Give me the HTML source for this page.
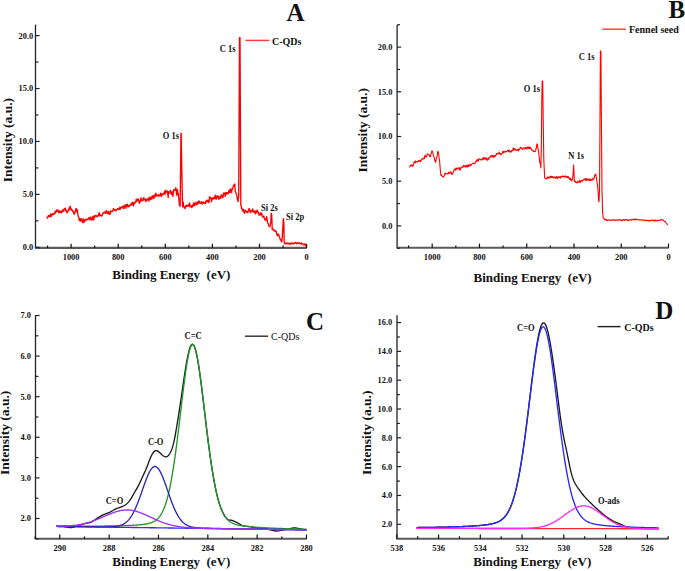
<!DOCTYPE html>
<html><head><meta charset="utf-8"><style>
html,body{margin:0;padding:0;background:#fff;overflow:hidden;width:685px;height:571px;}
svg{display:block;}
text{font-family:"Liberation Serif", serif;fill:#111;}
</style></head><body>
<svg width="685" height="571" viewBox="0 0 685 571">
<rect width="685" height="571" fill="#fff"/>
<g id="axes">
<line x1="35.5" y1="24.6" x2="35.5" y2="247.9" stroke="#222" stroke-width="1.3"/>
<line x1="34.85" y1="247.9" x2="306.8" y2="247.9" stroke="#5a5a5a" stroke-width="2.1"/>
<line x1="35.5" y1="247.3" x2="39.6" y2="247.3" stroke="#222" stroke-width="1.2"/>
<text transform="translate(33.2 250.2) scale(1 1.08)" font-size="8.4" font-weight="bold" text-anchor="end" >0.0</text>
<line x1="35.5" y1="220.84" x2="38.4" y2="220.84" stroke="#222" stroke-width="1.2"/>
<line x1="35.5" y1="194.38" x2="39.6" y2="194.38" stroke="#222" stroke-width="1.2"/>
<text transform="translate(33.2 197.28) scale(1 1.08)" font-size="8.4" font-weight="bold" text-anchor="end" >5.0</text>
<line x1="35.5" y1="167.91" x2="38.4" y2="167.91" stroke="#222" stroke-width="1.2"/>
<line x1="35.5" y1="141.45" x2="39.6" y2="141.45" stroke="#222" stroke-width="1.2"/>
<text transform="translate(33.2 144.35) scale(1 1.08)" font-size="8.4" font-weight="bold" text-anchor="end" >10.0</text>
<line x1="35.5" y1="114.99" x2="38.4" y2="114.99" stroke="#222" stroke-width="1.2"/>
<line x1="35.5" y1="88.53" x2="39.6" y2="88.53" stroke="#222" stroke-width="1.2"/>
<text transform="translate(33.2 91.43) scale(1 1.08)" font-size="8.4" font-weight="bold" text-anchor="end" >15.0</text>
<line x1="35.5" y1="62.06" x2="38.4" y2="62.06" stroke="#222" stroke-width="1.2"/>
<line x1="35.5" y1="35.6" x2="39.6" y2="35.6" stroke="#222" stroke-width="1.2"/>
<text transform="translate(33.2 38.5) scale(1 1.08)" font-size="8.4" font-weight="bold" text-anchor="end" >20.0</text>
<line x1="306.6" y1="247.9" x2="306.6" y2="243.7" stroke="#111" stroke-width="1.2"/>
<text transform="translate(306.6 259.7) scale(1 1.08)" font-size="8.4" font-weight="bold" text-anchor="middle" >0</text>
<line x1="283.05" y1="247.9" x2="283.05" y2="245.5" stroke="#111" stroke-width="1.2"/>
<line x1="259.5" y1="247.9" x2="259.5" y2="243.7" stroke="#111" stroke-width="1.2"/>
<text transform="translate(259.5 259.7) scale(1 1.08)" font-size="8.4" font-weight="bold" text-anchor="middle" >200</text>
<line x1="235.95" y1="247.9" x2="235.95" y2="245.5" stroke="#111" stroke-width="1.2"/>
<line x1="212.4" y1="247.9" x2="212.4" y2="243.7" stroke="#111" stroke-width="1.2"/>
<text transform="translate(212.4 259.7) scale(1 1.08)" font-size="8.4" font-weight="bold" text-anchor="middle" >400</text>
<line x1="188.85" y1="247.9" x2="188.85" y2="245.5" stroke="#111" stroke-width="1.2"/>
<line x1="165.3" y1="247.9" x2="165.3" y2="243.7" stroke="#111" stroke-width="1.2"/>
<text transform="translate(165.3 259.7) scale(1 1.08)" font-size="8.4" font-weight="bold" text-anchor="middle" >600</text>
<line x1="141.75" y1="247.9" x2="141.75" y2="245.5" stroke="#111" stroke-width="1.2"/>
<line x1="118.2" y1="247.9" x2="118.2" y2="243.7" stroke="#111" stroke-width="1.2"/>
<text transform="translate(118.2 259.7) scale(1 1.08)" font-size="8.4" font-weight="bold" text-anchor="middle" >800</text>
<line x1="94.65" y1="247.9" x2="94.65" y2="245.5" stroke="#111" stroke-width="1.2"/>
<line x1="71.1" y1="247.9" x2="71.1" y2="243.7" stroke="#111" stroke-width="1.2"/>
<text transform="translate(71.1 259.7) scale(1 1.08)" font-size="8.4" font-weight="bold" text-anchor="middle" >1000</text>
<line x1="47.55" y1="247.9" x2="47.55" y2="245.5" stroke="#111" stroke-width="1.2"/>
<line x1="397.1" y1="25" x2="397.1" y2="247.8" stroke="#222" stroke-width="1.3"/>
<line x1="396.45" y1="247.8" x2="668.7" y2="247.8" stroke="#5a5a5a" stroke-width="2.1"/>
<line x1="397.1" y1="248.25" x2="400" y2="248.25" stroke="#222" stroke-width="1.2"/>
<line x1="397.1" y1="225.9" x2="401.2" y2="225.9" stroke="#222" stroke-width="1.2"/>
<text transform="translate(392.4 228.8) scale(1 1.08)" font-size="8.4" font-weight="bold" text-anchor="end" >0.0</text>
<line x1="397.1" y1="203.55" x2="400" y2="203.55" stroke="#222" stroke-width="1.2"/>
<line x1="397.1" y1="181.2" x2="401.2" y2="181.2" stroke="#222" stroke-width="1.2"/>
<text transform="translate(392.4 184.1) scale(1 1.08)" font-size="8.4" font-weight="bold" text-anchor="end" >5.0</text>
<line x1="397.1" y1="158.85" x2="400" y2="158.85" stroke="#222" stroke-width="1.2"/>
<line x1="397.1" y1="136.5" x2="401.2" y2="136.5" stroke="#222" stroke-width="1.2"/>
<text transform="translate(392.4 139.4) scale(1 1.08)" font-size="8.4" font-weight="bold" text-anchor="end" >10.0</text>
<line x1="397.1" y1="114.15" x2="400" y2="114.15" stroke="#222" stroke-width="1.2"/>
<line x1="397.1" y1="91.8" x2="401.2" y2="91.8" stroke="#222" stroke-width="1.2"/>
<text transform="translate(392.4 94.7) scale(1 1.08)" font-size="8.4" font-weight="bold" text-anchor="end" >15.0</text>
<line x1="397.1" y1="69.45" x2="400" y2="69.45" stroke="#222" stroke-width="1.2"/>
<line x1="397.1" y1="47.1" x2="401.2" y2="47.1" stroke="#222" stroke-width="1.2"/>
<text transform="translate(392.4 50) scale(1 1.08)" font-size="8.4" font-weight="bold" text-anchor="end" >20.0</text>
<line x1="397.1" y1="24.75" x2="400" y2="24.75" stroke="#222" stroke-width="1.2"/>
<line x1="668.5" y1="247.8" x2="668.5" y2="243.6" stroke="#111" stroke-width="1.2"/>
<text transform="translate(668.5 259.7) scale(1 1.08)" font-size="8.4" font-weight="bold" text-anchor="middle" >0</text>
<line x1="644.87" y1="247.8" x2="644.87" y2="245.4" stroke="#111" stroke-width="1.2"/>
<line x1="621.24" y1="247.8" x2="621.24" y2="243.6" stroke="#111" stroke-width="1.2"/>
<text transform="translate(621.24 259.7) scale(1 1.08)" font-size="8.4" font-weight="bold" text-anchor="middle" >200</text>
<line x1="597.61" y1="247.8" x2="597.61" y2="245.4" stroke="#111" stroke-width="1.2"/>
<line x1="573.98" y1="247.8" x2="573.98" y2="243.6" stroke="#111" stroke-width="1.2"/>
<text transform="translate(573.98 259.7) scale(1 1.08)" font-size="8.4" font-weight="bold" text-anchor="middle" >400</text>
<line x1="550.35" y1="247.8" x2="550.35" y2="245.4" stroke="#111" stroke-width="1.2"/>
<line x1="526.72" y1="247.8" x2="526.72" y2="243.6" stroke="#111" stroke-width="1.2"/>
<text transform="translate(526.72 259.7) scale(1 1.08)" font-size="8.4" font-weight="bold" text-anchor="middle" >600</text>
<line x1="503.09" y1="247.8" x2="503.09" y2="245.4" stroke="#111" stroke-width="1.2"/>
<line x1="479.46" y1="247.8" x2="479.46" y2="243.6" stroke="#111" stroke-width="1.2"/>
<text transform="translate(479.46 259.7) scale(1 1.08)" font-size="8.4" font-weight="bold" text-anchor="middle" >800</text>
<line x1="455.83" y1="247.8" x2="455.83" y2="245.4" stroke="#111" stroke-width="1.2"/>
<line x1="432.2" y1="247.8" x2="432.2" y2="243.6" stroke="#111" stroke-width="1.2"/>
<text transform="translate(432.2 259.7) scale(1 1.08)" font-size="8.4" font-weight="bold" text-anchor="middle" >1000</text>
<line x1="408.57" y1="247.8" x2="408.57" y2="245.4" stroke="#111" stroke-width="1.2"/>
<line x1="35.5" y1="315.3" x2="35.5" y2="538.8" stroke="#222" stroke-width="1.3"/>
<line x1="34.85" y1="538.8" x2="306.7" y2="538.8" stroke="#5a5a5a" stroke-width="2.1"/>
<line x1="35.5" y1="538.8" x2="38.4" y2="538.8" stroke="#222" stroke-width="1.2"/>
<line x1="35.5" y1="518.5" x2="39.6" y2="518.5" stroke="#222" stroke-width="1.2"/>
<text transform="translate(30.9 521.4) scale(1 1.08)" font-size="8.4" font-weight="bold" text-anchor="end" >2.0</text>
<line x1="35.5" y1="498.2" x2="38.4" y2="498.2" stroke="#222" stroke-width="1.2"/>
<line x1="35.5" y1="477.9" x2="39.6" y2="477.9" stroke="#222" stroke-width="1.2"/>
<text transform="translate(30.9 480.8) scale(1 1.08)" font-size="8.4" font-weight="bold" text-anchor="end" >3.0</text>
<line x1="35.5" y1="457.6" x2="38.4" y2="457.6" stroke="#222" stroke-width="1.2"/>
<line x1="35.5" y1="437.3" x2="39.6" y2="437.3" stroke="#222" stroke-width="1.2"/>
<text transform="translate(30.9 440.2) scale(1 1.08)" font-size="8.4" font-weight="bold" text-anchor="end" >4.0</text>
<line x1="35.5" y1="417" x2="38.4" y2="417" stroke="#222" stroke-width="1.2"/>
<line x1="35.5" y1="396.7" x2="39.6" y2="396.7" stroke="#222" stroke-width="1.2"/>
<text transform="translate(30.9 399.6) scale(1 1.08)" font-size="8.4" font-weight="bold" text-anchor="end" >5.0</text>
<line x1="35.5" y1="376.4" x2="38.4" y2="376.4" stroke="#222" stroke-width="1.2"/>
<line x1="35.5" y1="356.1" x2="39.6" y2="356.1" stroke="#222" stroke-width="1.2"/>
<text transform="translate(30.9 359) scale(1 1.08)" font-size="8.4" font-weight="bold" text-anchor="end" >6.0</text>
<line x1="35.5" y1="335.8" x2="38.4" y2="335.8" stroke="#222" stroke-width="1.2"/>
<line x1="35.5" y1="315.5" x2="39.6" y2="315.5" stroke="#222" stroke-width="1.2"/>
<text transform="translate(30.9 318.4) scale(1 1.08)" font-size="8.4" font-weight="bold" text-anchor="end" >7.0</text>
<line x1="306.5" y1="538.8" x2="306.5" y2="534.6" stroke="#111" stroke-width="1.2"/>
<text transform="translate(306.5 550.9) scale(1 1.08)" font-size="8.4" font-weight="bold" text-anchor="middle" >280</text>
<line x1="281.83" y1="538.8" x2="281.83" y2="536.4" stroke="#111" stroke-width="1.2"/>
<line x1="257.16" y1="538.8" x2="257.16" y2="534.6" stroke="#111" stroke-width="1.2"/>
<text transform="translate(257.16 550.9) scale(1 1.08)" font-size="8.4" font-weight="bold" text-anchor="middle" >282</text>
<line x1="232.49" y1="538.8" x2="232.49" y2="536.4" stroke="#111" stroke-width="1.2"/>
<line x1="207.82" y1="538.8" x2="207.82" y2="534.6" stroke="#111" stroke-width="1.2"/>
<text transform="translate(207.82 550.9) scale(1 1.08)" font-size="8.4" font-weight="bold" text-anchor="middle" >284</text>
<line x1="183.15" y1="538.8" x2="183.15" y2="536.4" stroke="#111" stroke-width="1.2"/>
<line x1="158.48" y1="538.8" x2="158.48" y2="534.6" stroke="#111" stroke-width="1.2"/>
<text transform="translate(158.48 550.9) scale(1 1.08)" font-size="8.4" font-weight="bold" text-anchor="middle" >286</text>
<line x1="133.81" y1="538.8" x2="133.81" y2="536.4" stroke="#111" stroke-width="1.2"/>
<line x1="109.14" y1="538.8" x2="109.14" y2="534.6" stroke="#111" stroke-width="1.2"/>
<text transform="translate(109.14 550.9) scale(1 1.08)" font-size="8.4" font-weight="bold" text-anchor="middle" >288</text>
<line x1="84.47" y1="538.8" x2="84.47" y2="536.4" stroke="#111" stroke-width="1.2"/>
<line x1="59.8" y1="538.8" x2="59.8" y2="534.6" stroke="#111" stroke-width="1.2"/>
<text transform="translate(59.8 550.9) scale(1 1.08)" font-size="8.4" font-weight="bold" text-anchor="middle" >290</text>
<line x1="35.13" y1="538.8" x2="35.13" y2="536.4" stroke="#111" stroke-width="1.2"/>
<line x1="397" y1="315.3" x2="397" y2="538.7" stroke="#222" stroke-width="1.3"/>
<line x1="396.35" y1="538.7" x2="668.44" y2="538.7" stroke="#5a5a5a" stroke-width="2.1"/>
<line x1="397" y1="524.3" x2="401.1" y2="524.3" stroke="#222" stroke-width="1.2"/>
<text transform="translate(392.3 527.2) scale(1 1.08)" font-size="8.4" font-weight="bold" text-anchor="end" >2.0</text>
<line x1="397" y1="509.89" x2="399.9" y2="509.89" stroke="#222" stroke-width="1.2"/>
<line x1="397" y1="495.48" x2="401.1" y2="495.48" stroke="#222" stroke-width="1.2"/>
<text transform="translate(392.3 498.38) scale(1 1.08)" font-size="8.4" font-weight="bold" text-anchor="end" >4.0</text>
<line x1="397" y1="481.07" x2="399.9" y2="481.07" stroke="#222" stroke-width="1.2"/>
<line x1="397" y1="466.66" x2="401.1" y2="466.66" stroke="#222" stroke-width="1.2"/>
<text transform="translate(392.3 469.56) scale(1 1.08)" font-size="8.4" font-weight="bold" text-anchor="end" >6.0</text>
<line x1="397" y1="452.25" x2="399.9" y2="452.25" stroke="#222" stroke-width="1.2"/>
<line x1="397" y1="437.84" x2="401.1" y2="437.84" stroke="#222" stroke-width="1.2"/>
<text transform="translate(392.3 440.74) scale(1 1.08)" font-size="8.4" font-weight="bold" text-anchor="end" >8.0</text>
<line x1="397" y1="423.43" x2="399.9" y2="423.43" stroke="#222" stroke-width="1.2"/>
<line x1="397" y1="409.02" x2="401.1" y2="409.02" stroke="#222" stroke-width="1.2"/>
<text transform="translate(392.3 411.92) scale(1 1.08)" font-size="8.4" font-weight="bold" text-anchor="end" >10.0</text>
<line x1="397" y1="394.61" x2="399.9" y2="394.61" stroke="#222" stroke-width="1.2"/>
<line x1="397" y1="380.2" x2="401.1" y2="380.2" stroke="#222" stroke-width="1.2"/>
<text transform="translate(392.3 383.1) scale(1 1.08)" font-size="8.4" font-weight="bold" text-anchor="end" >12.0</text>
<line x1="397" y1="365.79" x2="399.9" y2="365.79" stroke="#222" stroke-width="1.2"/>
<line x1="397" y1="351.38" x2="401.1" y2="351.38" stroke="#222" stroke-width="1.2"/>
<text transform="translate(392.3 354.28) scale(1 1.08)" font-size="8.4" font-weight="bold" text-anchor="end" >14.0</text>
<line x1="397" y1="336.97" x2="399.9" y2="336.97" stroke="#222" stroke-width="1.2"/>
<line x1="397" y1="322.56" x2="401.1" y2="322.56" stroke="#222" stroke-width="1.2"/>
<text transform="translate(392.3 325.46) scale(1 1.08)" font-size="8.4" font-weight="bold" text-anchor="end" >16.0</text>
<line x1="668.24" y1="538.7" x2="668.24" y2="536.3" stroke="#111" stroke-width="1.2"/>
<line x1="647.36" y1="538.7" x2="647.36" y2="534.5" stroke="#111" stroke-width="1.2"/>
<text transform="translate(647.36 550.9) scale(1 1.08)" font-size="8.4" font-weight="bold" text-anchor="middle" >526</text>
<line x1="626.48" y1="538.7" x2="626.48" y2="536.3" stroke="#111" stroke-width="1.2"/>
<line x1="605.6" y1="538.7" x2="605.6" y2="534.5" stroke="#111" stroke-width="1.2"/>
<text transform="translate(605.6 550.9) scale(1 1.08)" font-size="8.4" font-weight="bold" text-anchor="middle" >528</text>
<line x1="584.72" y1="538.7" x2="584.72" y2="536.3" stroke="#111" stroke-width="1.2"/>
<line x1="563.84" y1="538.7" x2="563.84" y2="534.5" stroke="#111" stroke-width="1.2"/>
<text transform="translate(563.84 550.9) scale(1 1.08)" font-size="8.4" font-weight="bold" text-anchor="middle" >530</text>
<line x1="542.96" y1="538.7" x2="542.96" y2="536.3" stroke="#111" stroke-width="1.2"/>
<line x1="522.08" y1="538.7" x2="522.08" y2="534.5" stroke="#111" stroke-width="1.2"/>
<text transform="translate(522.08 550.9) scale(1 1.08)" font-size="8.4" font-weight="bold" text-anchor="middle" >532</text>
<line x1="501.2" y1="538.7" x2="501.2" y2="536.3" stroke="#111" stroke-width="1.2"/>
<line x1="480.32" y1="538.7" x2="480.32" y2="534.5" stroke="#111" stroke-width="1.2"/>
<text transform="translate(480.32 550.9) scale(1 1.08)" font-size="8.4" font-weight="bold" text-anchor="middle" >534</text>
<line x1="459.44" y1="538.7" x2="459.44" y2="536.3" stroke="#111" stroke-width="1.2"/>
<line x1="438.56" y1="538.7" x2="438.56" y2="534.5" stroke="#111" stroke-width="1.2"/>
<text transform="translate(438.56 550.9) scale(1 1.08)" font-size="8.4" font-weight="bold" text-anchor="middle" >536</text>
<line x1="417.68" y1="538.7" x2="417.68" y2="536.3" stroke="#111" stroke-width="1.2"/>
<line x1="396.8" y1="538.7" x2="396.8" y2="534.5" stroke="#111" stroke-width="1.2"/>
<text transform="translate(396.8 550.9) scale(1 1.08)" font-size="8.4" font-weight="bold" text-anchor="middle" >538</text>
</g>
<g id="survey">
<path d="M47 216.72 L47.4 218.06 L47.8 217.75 L48.2 215.76 L48.6 215.62 L49 215.44 L49.4 216.43 L49.8 215.9 L50.2 216.24 L50.6 213.8 L51 216.73 L51.4 215.18 L51.8 215.43 L52.2 214.31 L52.6 213.76 L53 214.46 L53.4 214.66 L53.8 213.39 L54.2 213.27 L54.6 213.86 L55 211.94 L55.4 211.09 L55.8 212.9 L56.2 211.6 L56.6 210 L57 211 L57.4 211.3 L57.8 210.37 L58.2 210.08 L58.6 211.9 L59 212.91 L59.4 211.58 L59.8 210.92 L60.2 212.16 L60.6 212.51 L61 211.43 L61.4 212.16 L61.8 212.5 L62.2 210.8 L62.6 209.88 L63 210.96 L63.4 210.95 L63.8 211.4 L64.2 208.57 L64.6 208.83 L65 208.78 L65.4 208.16 L65.8 210.52 L66.2 211.29 L66.6 210.36 L67 212.8 L67.4 212.18 L67.8 211.43 L68.2 210.82 L68.6 210.71 L69 207.92 L69.4 209.54 L69.8 209.06 L70.2 206.06 L70.6 208.62 L71 208.77 L71.4 210.15 L71.8 209.29 L72.2 210.22 L72.6 211.24 L73 210.78 L73.4 212.94 L73.8 213.13 L74.2 214.27 L74.6 212.19 L75 212.62 L75.4 210.95 L75.8 208.82 L76.2 208.56 L76.6 210.29 L77 211.93 L77.4 209.78 L77.8 214.03 L78.2 215.92 L78.6 217.23 L79 218.6 L79.4 220.64 L79.8 218.7 L80.2 220.49 L80.6 221.24 L81 218.65 L81.4 219.62 L81.8 219.09 L82.2 220.84 L82.6 222.53 L83 222.79 L83.4 219.03 L83.8 219.81 L84.2 221.26 L84.6 222.06 L85 220.72 L85.4 219.39 L85.8 220.15 L86.2 219.82 L86.6 219.4 L87 218.85 L87.4 219.81 L87.8 219.7 L88.2 219.12 L88.6 218.66 L89 217.5 L89.4 218.29 L89.8 219.87 L90.2 218.32 L90.6 217.05 L91 219.59 L91.4 219.18 L91.8 220.36 L92.2 218.18 L92.6 217.07 L93 216.11 L93.4 218.93 L93.8 220 L94.2 216.32 L94.6 216.01 L95 217 L95.4 215.48 L95.8 215.69 L96.2 215.55 L96.6 216.07 L97 216.83 L97.4 215.83 L97.8 216.43 L98.2 215.11 L98.6 215.35 L99 212.73 L99.4 213.41 L99.8 215.7 L100.2 214.48 L100.6 215.45 L101 215.53 L101.4 216.19 L101.8 215.61 L102.2 215.47 L102.6 213.99 L103 213.01 L103.4 212.78 L103.8 212.81 L104.2 212.05 L104.6 212.54 L105 213.05 L105.4 213.29 L105.8 212.29 L106.2 210.5 L106.6 212.32 L107 212.92 L107.4 213.76 L107.8 212.98 L108.2 211.33 L108.6 211.32 L109 214.19 L109.4 213.15 L109.8 214.14 L110.2 214.08 L110.6 210.68 L111 211.55 L111.4 211.69 L111.8 211.68 L112.2 211.5 L112.6 210.98 L113 210.54 L113.4 208.62 L113.8 209.77 L114.2 209.29 L114.6 210.05 L115 209.52 L115.4 210.66 L115.8 210.88 L116.2 210.19 L116.6 209.98 L117 209.52 L117.4 208.76 L117.8 208.86 L118.2 208.53 L118.6 209.39 L119 209.04 L119.4 209.28 L119.8 207.25 L120.2 209.29 L120.6 207.46 L121 207.17 L121.4 207.63 L121.8 207.24 L122.2 207.96 L122.6 206.79 L123 205.92 L123.4 206.31 L123.8 208.69 L124.2 207.1 L124.6 205.42 L125 206.31 L125.4 204.9 L125.8 208.2 L126.2 204.71 L126.6 206.58 L127 206.51 L127.4 204.12 L127.8 205.99 L128.2 206.91 L128.6 206.14 L129 205.73 L129.4 206.28 L129.8 205.24 L130.2 205.1 L130.6 204.48 L131 204.96 L131.4 203.15 L131.8 204.76 L132.2 203.09 L132.6 202.19 L133 204.03 L133.4 205.72 L133.8 204.57 L134.2 202.54 L134.6 203.53 L135 202.1 L135.4 202.22 L135.8 201.99 L136.2 199.1 L136.6 201.66 L137 200.35 L137.4 200.29 L137.8 199.14 L138.2 198.89 L138.6 199.78 L139 202.23 L139.4 203.21 L139.8 201.11 L140.2 201.98 L140.6 199.97 L141 197.78 L141.4 200.25 L141.8 200.76 L142.2 199.66 L142.6 200.46 L143 200.62 L143.4 198.53 L143.8 197.57 L144.2 199.09 L144.6 199.2 L145 199.15 L145.4 200.93 L145.8 201.65 L146.2 198.88 L146.6 199.93 L147 200.26 L147.4 199.9 L147.8 199.92 L148.2 198.03 L148.6 199.41 L149 201.01 L149.4 199.15 L149.8 197.11 L150.2 198.59 L150.6 199.47 L151 198.1 L151.4 196.94 L151.8 199.13 L152.2 195.86 L152.6 197.62 L153 196.92 L153.4 195.54 L153.8 198.44 L154.2 197.18 L154.6 195.04 L155 196.84 L155.4 195.26 L155.8 193.06 L156.2 194.44 L156.6 195.82 L157 196.21 L157.4 195.4 L157.8 195.03 L158.2 195.32 L158.6 194.67 L159 196.27 L159.4 195.1 L159.8 195.15 L160.2 195.22 L160.6 193.1 L161 193.67 L161.4 196.59 L161.8 195.21 L162.2 194.24 L162.6 194.78 L163 193.63 L163.4 194.12 L163.8 192.86 L164.2 193.43 L164.6 191.28 L165 194.4 L165.4 191.93 L165.8 190.12 L166.2 191.69 L166.6 191.87 L167 192.41 L167.4 191.04 L167.8 193.56 L168.2 197.5 L168.6 191.63 L169 192.97 L169.4 192.5 L169.8 192.8 L170.2 190.3 L170.6 191.14 L171 193.31 L171.4 193.12 L171.8 194.86 L172.2 191.99 L172.6 193.2 L173 196.42 L173.4 191.11 L173.8 189.76 L174.2 190.26 L174.6 189.87 L175 190.3 L175.4 188.63 L175.8 187.74 L176.2 190.6 L176.6 195.14 L177 194.23 L177.4 189.53 L177.8 193.03 L178.2 193.41 L178.6 197.5 L179 199.84 L179.4 205.01 L180.1 206.3 L180.6 170 L180.95 133.3 L181.2 133.3 L181.8 170 L182.5 204.6 L182.8 206.85 L183.2 201.84 L183.6 206.39 L184 206.42 L184.4 208.04 L184.8 207.18 L185.2 208.48 L185.6 206.25 L186 205.34 L186.4 206.52 L186.8 206.28 L187.2 205.17 L187.6 205.24 L188 206.39 L188.4 206.24 L188.8 204.62 L189.2 204.31 L189.6 202.99 L190 206.86 L190.4 205.18 L190.8 206.67 L191.2 205.94 L191.6 207.63 L192 207.1 L192.4 205.6 L192.8 206.46 L193.2 203.82 L193.6 205.68 L194 202.65 L194.4 204.53 L194.8 205.48 L195.2 204.26 L195.6 203.13 L196 202.39 L196.4 203 L196.8 204.73 L197.2 204.41 L197.6 202.58 L198 201.35 L198.4 203.3 L198.8 200.91 L199.2 201.67 L199.6 201.73 L200 203.5 L200.4 203.05 L200.8 203.17 L201.2 202.74 L201.6 201.59 L202 203.11 L202.4 204.13 L202.8 202.37 L203.2 202.8 L203.6 202 L204 203.25 L204.4 202.9 L204.8 202.95 L205.2 202.42 L205.6 203.64 L206 201.11 L206.4 200.68 L206.8 200.46 L207.2 201.74 L207.6 200.21 L208 200.12 L208.4 201.95 L208.8 202.58 L209.2 201.09 L209.6 196.66 L210 198.2 L210.4 198.08 L210.8 197.79 L211.2 199.01 L211.6 201.6 L212 198.78 L212.4 197.85 L212.8 199.41 L213.2 198.62 L213.6 198.37 L214 197.31 L214.4 198.12 L214.8 198.36 L215.2 195.18 L215.6 195.58 L216 199.24 L216.4 199.06 L216.8 197 L217.2 196.13 L217.6 196.93 L218 195.68 L218.4 196.88 L218.8 199.37 L219.2 197.65 L219.6 198.43 L220 196.65 L220.4 197.26 L220.8 198.15 L221.2 194.59 L221.6 195.37 L222 195.71 L222.4 196.33 L222.8 197.78 L223.2 196.19 L223.6 193 L224 193.97 L224.4 193.08 L224.8 193.21 L225.2 196.5 L225.6 192.74 L226 193.6 L226.4 192.54 L226.8 194.22 L227.2 193.51 L227.6 192.84 L228 192.49 L228.4 193.53 L228.8 190.67 L229.2 190.29 L229.6 189.97 L230 192.76 L230.4 190.57 L230.8 188.93 L231.2 189.53 L231.6 192.58 L232 189.02 L232.4 189.19 L232.8 188.11 L233.2 186.63 L233.6 185.04 L234 185.47 L234.4 185.46 L234.8 184 L235.2 191.31 L235.6 192 L236 192.85 L236.4 194.29 L236.8 195.28 L237.2 198.94 L237.6 199.34 L238 201.52 L238.7 196 L239.1 120 L239.5 37.6 L240 37.6 L240.4 120 L240.8 205 L241 205.47 L241.4 206.8 L241.8 209.1 L242.2 208.89 L242.6 210.44 L243 210.98 L243.4 209.07 L243.8 211.81 L244.2 210.62 L244.6 213.34 L245 211.89 L245.4 210.25 L245.8 210.91 L246.2 211.02 L246.6 211.28 L247 212.4 L247.4 211.67 L247.8 212.7 L248.2 211.48 L248.6 210.25 L249 208.61 L249.4 208.72 L249.8 210.99 L250.2 212.03 L250.6 212.78 L251 210.65 L251.4 211.13 L251.8 210.33 L252.2 210.48 L252.6 208.88 L253 212.02 L253.4 210.91 L253.8 211.61 L254.2 212.37 L254.6 212.15 L255 210.68 L255.4 213.72 L255.8 213.27 L256.2 212.76 L256.6 211.34 L257 210.22 L257.4 210.41 L257.8 212.25 L258.2 212.91 L258.6 212.47 L259 215.2 L259.4 214.04 L259.8 214.75 L260.2 214.61 L260.6 212.78 L261 215 L261.4 214.74 L261.8 213.31 L262.2 215.66 L262.6 216.63 L263 216.88 L263.4 217.51 L263.8 215.92 L264.2 217.72 L264.6 218.56 L265 220.07 L265.4 219.98 L265.8 220.24 L266.2 219 L266.6 216.71 L267 218.51 L267.4 221.83 L267.8 222.88 L268.2 223.67 L268.6 225.15 L269 226.35 L269.4 226.14 L269.8 226.76 L270.2 225.24 L270.8 222 L271.2 213.3 L271.6 213.5 L272 222 L272.2 229.57 L272.6 229.58 L273 229.33 L273.4 229.24 L273.8 229.51 L274.2 231.05 L274.6 230.58 L275 230.51 L275.4 231.03 L275.8 231.52 L276.2 231.17 L276.6 234.08 L277 233.63 L277.4 235.77 L277.8 234.92 L278.2 234 L278.6 234.88 L279 235.11 L279.4 236.73 L279.8 237.82 L280.2 239.4 L280.6 240.07 L281 239.8 L281.4 240.68 L281.8 241.93 L282.4 236 L283.1 222 L283.5 218.6 L283.9 225 L284.2 242.7 L284.6 243.38 L285 243.98 L285.4 243.72 L285.8 243.27 L286.2 243.7 L286.6 242.88 L287 243.66 L287.4 243.3 L287.8 243.8 L288.2 243.7 L288.6 243.19 L289 243.73 L289.4 243.66 L289.8 243.33 L290.2 244.47 L290.6 243.93 L291 242.92 L291.4 242.97 L291.8 243.61 L292.2 243.63 L292.6 243.24 L293 244.05 L293.4 243.57 L293.8 243.07 L294.2 243.26 L294.6 243.3 L295 242.69 L295.4 242.9 L295.8 242.56 L296.2 243.29 L296.6 243.7 L297 242.94 L297.4 243.51 L297.8 242.94 L298.2 243.32 L298.6 243.17 L299 242.85 L299.4 243.09 L299.8 242.9 L300.2 243.57 L300.6 243.61 L301 243.99 L301.4 242.94 L301.8 243.93 L302.2 243.66 L302.6 243.92 L303 243.91 L303.4 244.83 L303.8 244.98 L304.2 244.91 L304.6 244.55 L305 243.83 L305.4 245.42 L305.8 245.71 L306.2 246.03" fill="none" stroke="#ff0000" stroke-width="1.35" stroke-linejoin="round" />
<path d="M409.2 166.83 L409.6 166.85 L410 166.55 L410.4 165.07 L410.8 165.73 L411.2 165.08 L411.6 165.35 L412 165.5 L412.4 166.32 L412.8 165.1 L413.2 165.85 L413.6 164.42 L414 162.01 L414.4 162.76 L414.8 162.45 L415.2 160.89 L415.6 162.36 L416 161.65 L416.4 161.71 L416.8 161.44 L417.2 161.55 L417.6 161.9 L418 161.7 L418.4 160.42 L418.8 161.07 L419.2 160.25 L419.6 160.19 L420 160.94 L420.4 161.86 L420.8 161.58 L421.2 160.24 L421.6 159.47 L422 158.92 L422.4 159.22 L422.8 159.32 L423.2 158.18 L423.6 158.42 L424 158.12 L424.4 158.51 L424.8 155.58 L425.2 155.13 L425.6 156.6 L426 157.19 L426.4 156.25 L426.8 156.2 L427.2 154.48 L427.6 153.83 L428 153.95 L428.4 154.81 L428.8 155.21 L429.2 154.94 L429.6 156.27 L430 156.58 L430.4 156.6 L430.8 154.38 L431.2 153.6 L431.6 151.75 L432 150.72 L432.4 151.52 L432.8 152.66 L433.2 154.62 L433.6 155.62 L434 157.16 L434.4 158.3 L434.8 160.3 L435.2 160.78 L435.6 162.46 L436 160.94 L436.4 157.94 L436.8 157.48 L437.2 155.78 L437.6 152.33 L438 151.23 L438.4 152.42 L438.8 155.22 L439.2 158.27 L439.6 160.9 L440 166.19 L440.4 170.79 L440.8 174.56 L441.2 175.44 L441.6 174.87 L442 175.71 L442.4 176.52 L442.8 176.57 L443.2 177.06 L443.6 176.17 L444 176.23 L444.4 175.44 L444.8 173.47 L445.2 173.18 L445.6 173.14 L446 174.04 L446.4 173.85 L446.8 173.72 L447.2 173.62 L447.6 173.9 L448 173.96 L448.4 172.75 L448.8 172.01 L449.2 173.39 L449.6 172.92 L450 172.94 L450.4 172.65 L450.8 171.85 L451.2 171.92 L451.6 173.87 L452 174.38 L452.4 174.42 L452.8 173.36 L453.2 172.47 L453.6 171.23 L454 170.67 L454.4 169.56 L454.8 168.86 L455.2 169.46 L455.6 170.22 L456 167.85 L456.4 169.28 L456.8 169.31 L457.2 167.97 L457.6 168.83 L458 168.68 L458.4 168.15 L458.8 167.9 L459.2 167.43 L459.6 169.65 L460 170.26 L460.4 169.43 L460.8 167.86 L461.2 167.97 L461.6 167.83 L462 166.84 L462.4 167.07 L462.8 167.48 L463.2 166.55 L463.6 165.35 L464 165.58 L464.4 166.57 L464.8 166.12 L465.2 166.1 L465.6 167.09 L466 166.06 L466.4 165.27 L466.8 165.78 L467.2 167.11 L467.6 164.97 L468 166.73 L468.4 166.47 L468.8 165.07 L469.2 164.83 L469.6 165.92 L470 164.99 L470.4 164.39 L470.8 165.84 L471.2 164.69 L471.6 164.51 L472 164.04 L472.4 163.52 L472.8 163.51 L473.2 162.99 L473.6 163.41 L474 163.67 L474.4 163.5 L474.8 163.35 L475.2 163.27 L475.6 162.38 L476 161.18 L476.4 161.82 L476.8 159.8 L477.2 160.17 L477.6 160.66 L478 159.3 L478.4 161.16 L478.8 159.26 L479.2 158.6 L479.6 159.04 L480 159.08 L480.4 159.55 L480.8 159.54 L481.2 160.26 L481.6 159.35 L482 159.28 L482.4 158.43 L482.8 159.28 L483.2 158.18 L483.6 157.39 L484 159.65 L484.4 158.07 L484.8 157.83 L485.2 158.15 L485.6 159.18 L486 157.7 L486.4 158.48 L486.8 159.51 L487.2 160.46 L487.6 158.86 L488 158.83 L488.4 158.07 L488.8 159.74 L489.2 157.99 L489.6 157.52 L490 157.26 L490.4 156.18 L490.8 156.35 L491.2 155.37 L491.6 157.08 L492 156.01 L492.4 155.97 L492.8 156.82 L493.2 155.26 L493.6 157.18 L494 157.32 L494.4 155.6 L494.8 156.48 L495.2 155.85 L495.6 156.02 L496 154.87 L496.4 153.69 L496.8 154.3 L497.2 153.34 L497.6 153.19 L498 153.45 L498.4 153.84 L498.8 153.33 L499.2 151.96 L499.6 153.56 L500 153.26 L500.4 154.33 L500.8 153.76 L501.2 154.76 L501.6 153.92 L502 153.23 L502.4 153.01 L502.8 151.38 L503.2 152.85 L503.6 152.39 L504 151.3 L504.4 152.21 L504.8 152.09 L505.2 151.87 L505.6 151.37 L506 151.87 L506.4 151.7 L506.8 150.97 L507.2 150.78 L507.6 150.47 L508 150.49 L508.4 151.41 L508.8 150.53 L509.2 149.92 L509.6 151.34 L510 152.14 L510.4 151.25 L510.8 152.06 L511.2 151.76 L511.6 150.48 L512 151.05 L512.4 150.59 L512.8 150.51 L513.2 147.76 L513.6 150.06 L514 149.85 L514.4 148.44 L514.8 149.85 L515.2 149.14 L515.6 149.42 L516 150.12 L516.4 150.53 L516.8 149.72 L517.2 150.06 L517.6 149.85 L518 149.16 L518.4 150.97 L518.8 150.03 L519.2 149.12 L519.6 149.37 L520 148.51 L520.4 147.31 L520.8 148.13 L521.2 147.69 L521.6 148.22 L522 148.68 L522.4 148.93 L522.8 149.66 L523.2 148.45 L523.6 148.04 L524 147.68 L524.4 147.87 L524.8 148.88 L525.2 148.63 L525.6 147.52 L526 147.56 L526.4 147.89 L526.8 149.25 L527.2 147.48 L527.6 148.04 L528 146.62 L528.4 147.69 L528.8 148.85 L529.2 147.22 L529.6 148.83 L530 146.98 L530.4 148.36 L530.8 147.92 L531.2 148.88 L531.6 149.32 L532 150.52 L532.4 150.57 L532.8 150.75 L533.2 150.65 L533.6 151.67 L534 151.16 L534.4 151.56 L534.8 151.66 L535.2 151.41 L535.6 151.28 L536 148.31 L536.4 148 L536.8 144.4 L537.2 143.91 L537.6 146.54 L538 148.4 L538.4 150.27 L538.8 153.64 L539.2 156.47 L539.6 161.31 L540 163.3 L540.4 163.89 L540.8 167.92 L541.3 150 L541.8 100 L542.2 81 L542.7 81 L543.2 120 L543.8 160 L544.7 177.8 L546.2 179.02 L546.6 178.24 L547 178.64 L547.4 177.97 L547.8 176.79 L548.2 178.05 L548.6 177.32 L549 177.57 L549.4 178.16 L549.8 177.13 L550.2 176.17 L550.6 176.54 L551 177.59 L551.4 176.25 L551.8 177.3 L552.2 177.46 L552.6 176.6 L553 177.47 L553.4 177.8 L553.8 177.02 L554.2 177.26 L554.6 177.89 L555 176.82 L555.4 177.17 L555.8 178.3 L556.2 177.66 L556.6 176.61 L557 177.54 L557.4 178.61 L557.8 176.53 L558.2 177.75 L558.6 177.75 L559 177.09 L559.4 177.36 L559.8 176.66 L560.2 178.01 L560.6 178.03 L561 176.28 L561.4 176.5 L561.8 176.69 L562.2 176.25 L562.6 176.7 L563 175.92 L563.4 176.8 L563.8 176.32 L564.2 176.43 L564.6 176.81 L565 176.96 L565.4 175.8 L565.8 176.87 L566.2 177.13 L566.6 176.73 L567 177.72 L567.4 176.43 L567.8 176.59 L568.2 177.29 L568.6 176.95 L569 178.51 L569.4 178.4 L569.8 179.49 L570.2 178.15 L570.6 178.58 L571 180.33 L571.4 179.5 L571.8 180.96 L572.2 179.41 L572.6 179.39 L573.2 172 L573.6 165 L574 172 L574.4 181.5 L575.4 181.22 L575.8 182.4 L576.2 182.77 L576.6 182.59 L577 182.9 L577.4 181.9 L577.8 180.97 L578.2 181.79 L578.6 182.24 L579 182.12 L579.4 181.19 L579.8 180.35 L580.2 182.63 L580.6 181.49 L581 181.39 L581.4 180.54 L581.8 180.3 L582.2 181.13 L582.6 181.15 L583 179.81 L583.4 179.75 L583.8 179.51 L584.2 179.12 L584.6 179.18 L585 179.39 L585.4 178.55 L585.8 180.58 L586.2 178.48 L586.6 179.06 L587 180.43 L587.4 179.17 L587.8 179.35 L588.2 179.86 L588.6 180.42 L589 178.97 L589.4 180.15 L589.8 178.84 L590.2 180.58 L590.6 180.27 L591 179.74 L591.4 179.24 L591.8 180.31 L592.2 179.98 L592.6 179.86 L593 178.19 L593.4 178.81 L593.8 179.09 L594.2 178.19 L594.6 175.75 L595 174.83 L595.4 175.32 L595.8 174 L596.2 176.92 L596.6 178.85 L597 182.24 L597.4 184.53 L597.8 187.13 L598.2 193.28 L598.6 199.99 L599 201.79 L599.5 190 L600 120 L600.4 51 L600.9 51 L601.4 120 L602 190 L602.6 212 L603.2 218.04 L603.6 218.05 L604 218.23 L604.4 219.18 L604.8 219.72 L605.2 219.89 L605.6 219.33 L606 219.59 L606.4 220.28 L606.8 220.5 L607.2 219.76 L607.6 220.37 L608 220.46 L608.4 220.1 L608.8 219.69 L609.2 219.85 L609.6 220 L610 220.32 L610.4 220.35 L610.8 219.84 L611.2 220.03 L611.6 220.08 L612 220.08 L612.4 220.36 L612.8 220.05 L613.2 220.02 L613.6 219.68 L614 220.05 L614.4 219.9 L614.8 220.61 L615.2 220.22 L615.6 220.16 L616 220.09 L616.4 219.75 L616.8 219.94 L617.2 220.15 L617.6 220.37 L618 220.15 L618.4 219.72 L618.8 219.99 L619.2 219.99 L619.6 219.63 L620 220.22 L620.4 220.31 L620.8 219.94 L621.2 220.71 L621.6 220.25 L622 220.01 L622.4 220.62 L622.8 220.01 L623.2 220.06 L623.6 219.54 L624 219.78 L624.4 220.52 L624.8 219.82 L625.2 219.77 L625.6 219.91 L626 219.73 L626.4 219.58 L626.8 219.65 L627.2 219.95 L627.6 220.42 L628 220.3 L628.4 220.58 L628.8 219.75 L629.2 219.92 L629.6 219.98 L630 220.05 L630.4 220.01 L630.8 219.41 L631.2 220.18 L631.6 219.83 L632 219.65 L632.4 219.8 L632.8 219.55 L633.2 219.34 L633.6 219.49 L634 219.09 L634.4 219.32 L634.8 219.85 L635.2 219.77 L635.6 219.24 L636 218.94 L636.4 219.59 L636.8 219.73 L637.2 219.62 L637.6 219.4 L638 219.69 L638.4 219.66 L638.8 219.85 L639.2 219.99 L639.6 219.85 L640 219.84 L640.4 220.07 L640.8 220.01 L641.2 219.73 L641.6 219.98 L642 220.25 L642.4 220.25 L642.8 220.03 L643.2 220.05 L643.6 219.87 L644 220.27 L644.4 220.57 L644.8 220.41 L645.2 220.21 L645.6 220.5 L646 220.41 L646.4 220.54 L646.8 220.08 L647.2 220.33 L647.6 220.75 L648 220.82 L648.4 220.31 L648.8 220.41 L649.2 221.04 L649.6 220.69 L650 220.51 L650.4 220.65 L650.8 220.33 L651.2 220.04 L651.6 220.48 L652 220.43 L652.4 220.36 L652.8 220.5 L653.2 220.29 L653.6 220.32 L654 220.06 L654.4 220.9 L654.8 220.99 L655.2 220.25 L655.6 220.1 L656 220.67 L656.4 220.82 L656.8 220.45 L657.2 220.28 L657.6 220.94 L658 220.29 L658.4 220.44 L658.8 220.38 L659.2 220.35 L659.6 220.57 L660 220.46 L660.4 219.63 L660.8 219.89 L661.2 220.19 L661.6 219.87 L662 219.58 L662.4 219.99 L662.8 219.9 L663.2 220.21 L663.6 220.72 L664 220.95 L664.4 221.5 L664.8 221.4 L665.2 221.51 L665.6 222.34 L666 222.66 L666.4 223.25 L666.8 223.85 L667.2 224.31 L667.6 225.07" fill="none" stroke="#ff0000" stroke-width="1.1" stroke-linejoin="round" />
</g>
<g id="pc">
<path d="M56.1 526.43 L56.52 526.43 L56.94 526.44 L57.35 526.45 L57.77 526.46 L58.19 526.48 L58.61 526.49 L59.03 526.5 L59.44 526.51 L59.86 526.53 L60.28 526.54 L60.7 526.55 L61.12 526.56 L61.53 526.56 L61.95 526.57 L62.37 526.58 L62.79 526.6 L63.21 526.62 L63.62 526.65 L64.04 526.68 L64.46 526.73 L64.88 526.78 L65.3 526.84 L65.71 526.9 L66.13 526.97 L66.55 527.04 L66.97 527.11 L67.39 527.17 L67.8 527.24 L68.22 527.3 L68.64 527.37 L69.06 527.43 L69.48 527.49 L69.89 527.52 L70.31 527.54 L70.73 527.54 L71.15 527.53 L71.57 527.49 L71.98 527.44 L72.4 527.37 L72.82 527.28 L73.24 527.18 L73.66 527.08 L74.07 526.97 L74.49 526.87 L74.91 526.76 L75.33 526.65 L75.75 526.54 L76.16 526.42 L76.58 526.31 L77 526.19 L77.42 526.07 L77.84 525.94 L78.26 525.82 L78.67 525.69 L79.09 525.55 L79.51 525.42 L79.93 525.28 L80.35 525.14 L80.76 524.99 L81.18 524.85 L81.6 524.7 L82.02 524.55 L82.44 524.39 L82.85 524.24 L83.27 524.08 L83.69 523.93 L84.11 523.79 L84.53 523.67 L84.94 523.55 L85.36 523.45 L85.78 523.36 L86.2 523.27 L86.62 523.2 L87.03 523.14 L87.45 523.08 L87.87 523.02 L88.29 522.95 L88.71 522.88 L89.12 522.79 L89.54 522.68 L89.96 522.54 L90.38 522.39 L90.8 522.21 L91.21 522.02 L91.63 521.8 L92.05 521.56 L92.47 521.31 L92.89 521.05 L93.3 520.79 L93.72 520.53 L94.14 520.26 L94.56 520 L94.98 519.73 L95.39 519.46 L95.81 519.19 L96.23 518.92 L96.65 518.65 L97.07 518.39 L97.48 518.13 L97.9 517.87 L98.32 517.61 L98.74 517.36 L99.16 517.1 L99.57 516.85 L99.99 516.6 L100.41 516.35 L100.83 516.09 L101.25 515.85 L101.66 515.61 L102.08 515.38 L102.5 515.17 L102.92 514.97 L103.34 514.77 L103.76 514.59 L104.17 514.43 L104.59 514.27 L105.01 514.11 L105.43 513.96 L105.85 513.8 L106.26 513.64 L106.68 513.49 L107.1 513.33 L107.52 513.18 L107.94 513.02 L108.35 512.85 L108.77 512.68 L109.19 512.5 L109.61 512.3 L110.03 512.1 L110.44 511.89 L110.86 511.67 L111.28 511.44 L111.7 511.21 L112.12 510.97 L112.53 510.73 L112.95 510.49 L113.37 510.26 L113.79 510.02 L114.21 509.78 L114.62 509.54 L115.04 509.31 L115.46 509.09 L115.88 508.88 L116.3 508.68 L116.71 508.5 L117.13 508.33 L117.55 508.18 L117.97 508.03 L118.39 507.9 L118.8 507.78 L119.22 507.65 L119.64 507.51 L120.06 507.37 L120.48 507.22 L120.89 507.07 L121.31 506.91 L121.73 506.74 L122.15 506.56 L122.57 506.38 L122.98 506.18 L123.4 505.98 L123.82 505.76 L124.24 505.54 L124.66 505.3 L125.07 505.05 L125.49 504.79 L125.91 504.51 L126.33 504.19 L126.75 503.85 L127.16 503.48 L127.58 503.07 L128 502.63 L128.42 502.16 L128.84 501.65 L129.25 501.11 L129.67 500.54 L130.09 499.95 L130.51 499.34 L130.93 498.7 L131.35 498.04 L131.76 497.36 L132.18 496.65 L132.6 495.93 L133.02 495.18 L133.44 494.44 L133.85 493.71 L134.27 492.97 L134.69 492.24 L135.11 491.51 L135.53 490.78 L135.94 490.06 L136.36 489.34 L136.78 488.61 L137.2 487.87 L137.62 487.1 L138.03 486.31 L138.45 485.51 L138.87 484.68 L139.29 483.85 L139.71 482.99 L140.12 482.12 L140.54 481.23 L140.96 480.33 L141.38 479.43 L141.8 478.51 L142.21 477.59 L142.63 476.66 L143.05 475.73 L143.47 474.81 L143.89 473.89 L144.3 472.98 L144.72 472.09 L145.14 471.21 L145.56 470.28 L145.98 469.32 L146.39 468.32 L146.81 467.29 L147.23 466.23 L147.65 465.14 L148.07 464.03 L148.48 462.89 L148.9 461.73 L149.32 460.61 L149.74 459.54 L150.16 458.5 L150.57 457.52 L150.99 456.59 L151.41 455.73 L151.83 454.92 L152.25 454.17 L152.66 453.49 L153.08 452.86 L153.5 452.3 L153.92 451.81 L154.34 451.38 L154.75 451.04 L155.17 450.8 L155.59 450.63 L156.01 450.56 L156.43 450.56 L156.84 450.65 L157.26 450.81 L157.68 451.05 L158.1 451.34 L158.52 451.66 L158.94 452 L159.35 452.36 L159.77 452.74 L160.19 453.12 L160.61 453.51 L161.03 453.9 L161.44 454.28 L161.86 454.66 L162.28 455.02 L162.7 455.37 L163.12 455.7 L163.53 456 L163.95 456.26 L164.37 456.48 L164.79 456.64 L165.21 456.76 L165.62 456.82 L166.04 456.81 L166.46 456.73 L166.88 456.59 L167.3 456.37 L167.71 456.08 L168.13 455.72 L168.55 455.27 L168.97 454.75 L169.39 454.15 L169.8 453.48 L170.22 452.74 L170.64 451.91 L171.06 451.01 L171.48 450.02 L171.89 448.95 L172.31 447.75 L172.73 446.41 L173.15 444.91 L173.57 443.26 L173.98 441.46 L174.4 439.51 L174.82 437.41 L175.24 435.17 L175.66 432.83 L176.07 430.43 L176.49 427.99 L176.91 425.51 L177.33 422.98 L177.75 420.43 L178.16 417.84 L178.58 415.22 L179 412.57 L179.42 409.87 L179.84 407.11 L180.25 404.3 L180.67 401.46 L181.09 398.59 L181.51 395.7 L181.93 392.79 L182.34 389.88 L182.76 386.97 L183.18 384.07 L183.6 381.2 L184.02 378.36 L184.43 375.56 L184.85 372.82 L185.27 370.14 L185.69 367.54 L186.11 365.03 L186.53 362.61 L186.94 360.3 L187.36 358.11 L187.78 356.05 L188.2 354.12 L188.62 352.34 L189.03 350.71 L189.45 349.25 L189.87 347.96 L190.29 346.85 L190.71 345.93 L191.12 345.21 L191.54 344.68 L191.96 344.36 L192.38 344.25 L192.8 344.34 L193.21 344.64 L193.63 345.15 L194.05 345.86 L194.47 346.78 L194.89 347.9 L195.3 349.21 L195.72 350.72 L196.14 352.41 L196.56 354.28 L196.98 356.31 L197.39 358.5 L197.81 360.84 L198.23 363.32 L198.65 365.93 L199.07 368.67 L199.48 371.51 L199.9 374.46 L200.32 377.5 L200.74 380.63 L201.16 383.84 L201.57 387.12 L201.99 390.46 L202.41 393.85 L202.83 397.28 L203.25 400.75 L203.66 404.24 L204.08 407.75 L204.5 411.26 L204.92 414.77 L205.34 418.27 L205.75 421.76 L206.17 425.23 L206.59 428.67 L207.01 432.07 L207.43 435.44 L207.84 438.76 L208.26 442.04 L208.68 445.26 L209.1 448.43 L209.52 451.53 L209.93 454.57 L210.35 457.54 L210.77 460.44 L211.19 463.28 L211.61 466.04 L212.03 468.72 L212.44 471.34 L212.86 473.88 L213.28 476.34 L213.7 478.73 L214.12 481.05 L214.53 483.28 L214.95 485.44 L215.37 487.52 L215.79 489.52 L216.21 491.43 L216.62 493.27 L217.04 495.04 L217.46 496.72 L217.88 498.34 L218.3 499.88 L218.71 501.34 L219.13 502.74 L219.55 504.07 L219.97 505.34 L220.39 506.54 L220.8 507.69 L221.22 508.77 L221.64 509.79 L222.06 510.76 L222.48 511.68 L222.89 512.55 L223.31 513.36 L223.73 514.14 L224.15 514.86 L224.57 515.55 L224.98 516.19 L225.4 516.8 L225.82 517.37 L226.24 517.9 L226.66 518.4 L227.07 518.84 L227.49 519.21 L227.91 519.52 L228.33 519.76 L228.75 519.95 L229.16 520.08 L229.58 520.15 L230 520.17 L230.42 520.16 L230.84 520.18 L231.25 520.22 L231.67 520.29 L232.09 520.39 L232.51 520.51 L232.93 520.67 L233.34 520.85 L233.76 521.06 L234.18 521.28 L234.6 521.49 L235.02 521.69 L235.43 521.88 L235.85 522.06 L236.27 522.24 L236.69 522.42 L237.11 522.61 L237.52 522.81 L237.94 523.02 L238.36 523.24 L238.78 523.47 L239.2 523.71 L239.62 523.97 L240.03 524.23 L240.45 524.49 L240.87 524.75 L241.29 524.99 L241.71 525.21 L242.12 525.4 L242.54 525.57 L242.96 525.72 L243.38 525.84 L243.8 525.94 L244.21 526.02 L244.63 526.08 L245.05 526.13 L245.47 526.18 L245.89 526.23 L246.3 526.28 L246.72 526.32 L247.14 526.37 L247.56 526.41 L247.98 526.46 L248.39 526.5 L248.81 526.54 L249.23 526.59 L249.65 526.64 L250.07 526.69 L250.48 526.75 L250.9 526.82 L251.32 526.89 L251.74 526.97 L252.16 527.05 L252.57 527.13 L252.99 527.22 L253.41 527.31 L253.83 527.39 L254.25 527.47 L254.66 527.56 L255.08 527.64 L255.5 527.72 L255.92 527.8 L256.34 527.89 L256.75 527.97 L257.17 528.04 L257.59 528.11 L258.01 528.17 L258.43 528.23 L258.84 528.28 L259.26 528.32 L259.68 528.35 L260.1 528.38 L260.52 528.4 L260.93 528.42 L261.35 528.44 L261.77 528.46 L262.19 528.48 L262.61 528.5 L263.02 528.52 L263.44 528.54 L263.86 528.57 L264.28 528.61 L264.7 528.65 L265.11 528.71 L265.53 528.78 L265.95 528.85 L266.37 528.93 L266.79 529.03 L267.21 529.12 L267.62 529.22 L268.04 529.32 L268.46 529.42 L268.88 529.52 L269.3 529.62 L269.71 529.71 L270.13 529.81 L270.55 529.91 L270.97 530 L271.39 530.1 L271.8 530.2 L272.22 530.29 L272.64 530.39 L273.06 530.49 L273.48 530.58 L273.89 530.68 L274.31 530.77 L274.73 530.86 L275.15 530.92 L275.57 530.97 L275.98 531 L276.4 531.01 L276.82 531 L277.24 530.97 L277.66 530.92 L278.07 530.85 L278.49 530.78 L278.91 530.7 L279.33 530.62 L279.75 530.54 L280.16 530.47 L280.58 530.39 L281 530.31 L281.42 530.23 L281.84 530.15 L282.25 530.07 L282.67 529.99 L283.09 529.92 L283.51 529.84 L283.93 529.76 L284.34 529.68 L284.76 529.6 L285.18 529.52 L285.6 529.44 L286.02 529.36 L286.43 529.28 L286.85 529.2 L287.27 529.12 L287.69 529.04 L288.11 528.96 L288.52 528.88 L288.94 528.8 L289.36 528.72 L289.78 528.64 L290.2 528.56 L290.61 528.48 L291.03 528.39 L291.45 528.31 L291.87 528.23 L292.29 528.15 L292.7 528.07 L293.12 528 L293.54 527.94 L293.96 527.91 L294.38 527.89 L294.8 527.89 L295.21 527.91 L295.63 527.95 L296.05 528.01 L296.47 528.08 L296.89 528.16 L297.3 528.25 L297.72 528.33 L298.14 528.42 L298.56 528.5 L298.98 528.59 L299.39 528.67 L299.81 528.76 L300.23 528.84 L300.65 528.93 L301.07 529.01 L301.48 529.09 L301.9 529.18 L302.32 529.26 L302.74 529.35 L303.16 529.43 L303.57 529.51 L303.99 529.6 L304.41 529.68 L304.83 529.75 L305.25 529.82 L305.66 529.88 L306.08 529.93 L306.5 529.97" fill="none" stroke="#1a1a1a" stroke-width="1.35" stroke-linejoin="round" />
<path d="M56.1 525.97 L56.52 525.98 L56.94 525.98 L57.35 525.98 L57.77 525.99 L58.19 525.99 L58.61 525.99 L59.03 526 L59.44 526 L59.86 526 L60.28 526 L60.7 526.01 L61.12 526.01 L61.53 526.01 L61.95 526.02 L62.37 526.02 L62.79 526.02 L63.21 526.02 L63.62 526.03 L64.04 526.03 L64.46 526.03 L64.88 526.03 L65.3 526.04 L65.71 526.04 L66.13 526.04 L66.55 526.04 L66.97 526.05 L67.39 526.05 L67.8 526.05 L68.22 526.05 L68.64 526.05 L69.06 526.06 L69.48 526.06 L69.89 526.06 L70.31 526.06 L70.73 526.07 L71.15 526.07 L71.57 526.07 L71.98 526.07 L72.4 526.07 L72.82 526.08 L73.24 526.08 L73.66 526.08 L74.07 526.08 L74.49 526.08 L74.91 526.08 L75.33 526.09 L75.75 526.09 L76.16 526.09 L76.58 526.09 L77 526.09 L77.42 526.09 L77.84 526.09 L78.26 526.1 L78.67 526.1 L79.09 526.1 L79.51 526.1 L79.93 526.1 L80.35 526.1 L80.76 526.1 L81.18 526.1 L81.6 526.1 L82.02 526.1 L82.44 526.11 L82.85 526.11 L83.27 526.11 L83.69 526.11 L84.11 526.11 L84.53 526.11 L84.94 526.11 L85.36 526.11 L85.78 526.11 L86.2 526.11 L86.62 526.11 L87.03 526.11 L87.45 526.11 L87.87 526.11 L88.29 526.11 L88.71 526.11 L89.12 526.11 L89.54 526.11 L89.96 526.11 L90.38 526.11 L90.8 526.11 L91.21 526.11 L91.63 526.11 L92.05 526.11 L92.47 526.1 L92.89 526.1 L93.3 526.1 L93.72 526.1 L94.14 526.1 L94.56 526.1 L94.98 526.1 L95.39 526.1 L95.81 526.1 L96.23 526.09 L96.65 526.09 L97.07 526.09 L97.48 526.09 L97.9 526.09 L98.32 526.08 L98.74 526.08 L99.16 526.08 L99.57 526.08 L99.99 526.07 L100.41 526.07 L100.83 526.07 L101.25 526.07 L101.66 526.06 L102.08 526.06 L102.5 526.06 L102.92 526.05 L103.34 526.05 L103.76 526.05 L104.17 526.04 L104.59 526.04 L105.01 526.04 L105.43 526.03 L105.85 526.03 L106.26 526.02 L106.68 526.02 L107.1 526.01 L107.52 526.01 L107.94 526 L108.35 526 L108.77 525.99 L109.19 525.99 L109.61 525.98 L110.03 525.98 L110.44 525.97 L110.86 525.96 L111.28 525.96 L111.7 525.95 L112.12 525.95 L112.53 525.94 L112.95 525.93 L113.37 525.92 L113.79 525.92 L114.21 525.91 L114.62 525.9 L115.04 525.89 L115.46 525.89 L115.88 525.88 L116.3 525.87 L116.71 525.86 L117.13 525.85 L117.55 525.84 L117.97 525.83 L118.39 525.82 L118.8 525.81 L119.22 525.8 L119.64 525.79 L120.06 525.78 L120.48 525.77 L120.89 525.76 L121.31 525.74 L121.73 525.73 L122.15 525.72 L122.57 525.71 L122.98 525.69 L123.4 525.68 L123.82 525.67 L124.24 525.65 L124.66 525.64 L125.07 525.63 L125.49 525.61 L125.91 525.59 L126.33 525.58 L126.75 525.56 L127.16 525.55 L127.58 525.53 L128 525.51 L128.42 525.49 L128.84 525.48 L129.25 525.46 L129.67 525.44 L130.09 525.42 L130.51 525.4 L130.93 525.38 L131.35 525.36 L131.76 525.34 L132.18 525.31 L132.6 525.29 L133.02 525.27 L133.44 525.24 L133.85 525.22 L134.27 525.19 L134.69 525.17 L135.11 525.14 L135.53 525.11 L135.94 525.08 L136.36 525.06 L136.78 525.03 L137.2 524.99 L137.62 524.96 L138.03 524.93 L138.45 524.9 L138.87 524.86 L139.29 524.82 L139.71 524.79 L140.12 524.75 L140.54 524.71 L140.96 524.67 L141.38 524.62 L141.8 524.58 L142.21 524.53 L142.63 524.49 L143.05 524.43 L143.47 524.38 L143.89 524.33 L144.3 524.27 L144.72 524.21 L145.14 524.15 L145.56 524.08 L145.98 524.01 L146.39 523.94 L146.81 523.86 L147.23 523.78 L147.65 523.69 L148.07 523.6 L148.48 523.51 L148.9 523.41 L149.32 523.3 L149.74 523.18 L150.16 523.06 L150.57 522.93 L150.99 522.79 L151.41 522.64 L151.83 522.49 L152.25 522.32 L152.66 522.14 L153.08 521.95 L153.5 521.75 L153.92 521.53 L154.34 521.3 L154.75 521.05 L155.17 520.78 L155.59 520.5 L156.01 520.19 L156.43 519.87 L156.84 519.52 L157.26 519.15 L157.68 518.75 L158.1 518.33 L158.52 517.87 L158.94 517.39 L159.35 516.88 L159.77 516.33 L160.19 515.75 L160.61 515.13 L161.03 514.46 L161.44 513.76 L161.86 513.02 L162.28 512.23 L162.7 511.39 L163.12 510.5 L163.53 509.56 L163.95 508.56 L164.37 507.51 L164.79 506.4 L165.21 505.23 L165.62 504 L166.04 502.7 L166.46 501.33 L166.88 499.9 L167.3 498.4 L167.71 496.82 L168.13 495.17 L168.55 493.45 L168.97 491.64 L169.39 489.76 L169.8 487.81 L170.22 485.77 L170.64 483.65 L171.06 481.45 L171.48 479.17 L171.89 476.81 L172.31 474.37 L172.73 471.85 L173.15 469.24 L173.57 466.56 L173.98 463.81 L174.4 460.97 L174.82 458.07 L175.24 455.09 L175.66 452.05 L176.07 448.93 L176.49 445.76 L176.91 442.53 L177.33 439.25 L177.75 435.92 L178.16 432.54 L178.58 429.12 L179 425.67 L179.42 422.19 L179.84 418.69 L180.25 415.17 L180.67 411.64 L181.09 408.12 L181.51 404.6 L181.93 401.09 L182.34 397.61 L182.76 394.15 L183.18 390.74 L183.6 387.38 L184.02 384.07 L184.43 380.84 L184.85 377.67 L185.27 374.6 L185.69 371.62 L186.11 368.75 L186.53 366 L186.94 363.37 L187.36 360.88 L187.78 358.53 L188.2 356.34 L188.62 354.31 L189.03 352.46 L189.45 350.78 L189.87 349.29 L190.29 348 L190.71 346.91 L191.12 346.02 L191.54 345.34 L191.96 344.88 L192.38 344.63 L192.8 344.6 L193.21 344.78 L193.63 345.18 L194.05 345.8 L194.47 346.62 L194.89 347.65 L195.3 348.89 L195.72 350.32 L196.14 351.94 L196.56 353.75 L196.98 355.73 L197.39 357.87 L197.81 360.18 L198.23 362.63 L198.65 365.22 L199.07 367.94 L199.48 370.79 L199.9 373.74 L200.32 376.79 L200.74 379.93 L201.16 383.16 L201.57 386.45 L201.99 389.81 L202.41 393.22 L202.83 396.67 L203.25 400.15 L203.66 403.66 L204.08 407.19 L204.5 410.73 L204.92 414.26 L205.34 417.8 L205.75 421.32 L206.17 424.82 L206.59 428.29 L207.01 431.73 L207.43 435.14 L207.84 438.5 L208.26 441.81 L208.68 445.07 L209.1 448.28 L209.52 451.42 L209.93 454.5 L210.35 457.51 L210.77 460.46 L211.19 463.33 L211.61 466.12 L212.03 468.84 L212.44 471.48 L212.86 474.04 L213.28 476.53 L213.7 478.93 L214.12 481.25 L214.53 483.49 L214.95 485.65 L215.37 487.72 L215.79 489.72 L216.21 491.64 L216.62 493.48 L217.04 495.24 L217.46 496.93 L217.88 498.54 L218.3 500.08 L218.71 501.55 L219.13 502.95 L219.55 504.29 L219.97 505.55 L220.39 506.76 L220.8 507.9 L221.22 508.98 L221.64 510.01 L222.06 510.98 L222.48 511.9 L222.89 512.77 L223.31 513.59 L223.73 514.36 L224.15 515.09 L224.57 515.78 L224.98 516.42 L225.4 517.03 L225.82 517.6 L226.24 518.14 L226.66 518.64 L227.07 519.12 L227.49 519.56 L227.91 519.98 L228.33 520.37 L228.75 520.74 L229.16 521.08 L229.58 521.41 L230 521.71 L230.42 522 L230.84 522.26 L231.25 522.51 L231.67 522.75 L232.09 522.97 L232.51 523.17 L232.93 523.37 L233.34 523.55 L233.76 523.72 L234.18 523.89 L234.6 524.04 L235.02 524.18 L235.43 524.32 L235.85 524.45 L236.27 524.57 L236.69 524.69 L237.11 524.8 L237.52 524.9 L237.94 525 L238.36 525.09 L238.78 525.18 L239.2 525.27 L239.62 525.35 L240.03 525.43 L240.45 525.51 L240.87 525.58 L241.29 525.65 L241.71 525.72 L242.12 525.78 L242.54 525.84 L242.96 525.9 L243.38 525.96 L243.8 526.02 L244.21 526.07 L244.63 526.13 L245.05 526.18 L245.47 526.23 L245.89 526.28 L246.3 526.33 L246.72 526.37 L247.14 526.42 L247.56 526.46 L247.98 526.51 L248.39 526.55 L248.81 526.59 L249.23 526.63 L249.65 526.67 L250.07 526.71 L250.48 526.75 L250.9 526.79 L251.32 526.83 L251.74 526.86 L252.16 526.9 L252.57 526.93 L252.99 526.97 L253.41 527 L253.83 527.04 L254.25 527.07 L254.66 527.1 L255.08 527.13 L255.5 527.16 L255.92 527.19 L256.34 527.22 L256.75 527.25 L257.17 527.28 L257.59 527.31 L258.01 527.34 L258.43 527.37 L258.84 527.4 L259.26 527.43 L259.68 527.45 L260.1 527.48 L260.52 527.51 L260.93 527.53 L261.35 527.56 L261.77 527.58 L262.19 527.61 L262.61 527.63 L263.02 527.66 L263.44 527.68 L263.86 527.7 L264.28 527.73 L264.7 527.75 L265.11 527.77 L265.53 527.79 L265.95 527.82 L266.37 527.84 L266.79 527.86 L267.21 527.88 L267.62 527.9 L268.04 527.92 L268.46 527.95 L268.88 527.97 L269.3 527.99 L269.71 528.01 L270.13 528.03 L270.55 528.05 L270.97 528.06 L271.39 528.08 L271.8 528.1 L272.22 528.12 L272.64 528.14 L273.06 528.16 L273.48 528.18 L273.89 528.2 L274.31 528.21 L274.73 528.23 L275.15 528.25 L275.57 528.27 L275.98 528.28 L276.4 528.3 L276.82 528.32 L277.24 528.33 L277.66 528.35 L278.07 528.37 L278.49 528.38 L278.91 528.4 L279.33 528.41 L279.75 528.43 L280.16 528.45 L280.58 528.46 L281 528.48 L281.42 528.49 L281.84 528.51 L282.25 528.52 L282.67 528.54 L283.09 528.55 L283.51 528.57 L283.93 528.58 L284.34 528.6 L284.76 528.61 L285.18 528.62 L285.6 528.64 L286.02 528.65 L286.43 528.67 L286.85 528.68 L287.27 528.69 L287.69 528.71 L288.11 528.72 L288.52 528.73 L288.94 528.75 L289.36 528.76 L289.78 528.77 L290.2 528.79 L290.61 528.8 L291.03 528.81 L291.45 528.82 L291.87 528.84 L292.29 528.85 L292.7 528.86 L293.12 528.87 L293.54 528.89 L293.96 528.9 L294.38 528.91 L294.8 528.92 L295.21 528.94 L295.63 528.95 L296.05 528.96 L296.47 528.97 L296.89 528.98 L297.3 528.99 L297.72 529.01 L298.14 529.02 L298.56 529.03 L298.98 529.04 L299.39 529.05 L299.81 529.06 L300.23 529.07 L300.65 529.08 L301.07 529.1 L301.48 529.11 L301.9 529.12 L302.32 529.13 L302.74 529.14 L303.16 529.15 L303.57 529.16 L303.99 529.17 L304.41 529.18 L304.83 529.19 L305.25 529.2 L305.66 529.21 L306.08 529.22 L306.5 529.23" fill="none" stroke="#22962a" stroke-width="1.35" stroke-linejoin="round" />
<path d="M56.1 526.42 L56.52 526.42 L56.94 526.43 L57.35 526.43 L57.77 526.44 L58.19 526.45 L58.61 526.45 L59.03 526.46 L59.44 526.46 L59.86 526.47 L60.28 526.47 L60.7 526.48 L61.12 526.49 L61.53 526.49 L61.95 526.5 L62.37 526.5 L62.79 526.51 L63.21 526.51 L63.62 526.52 L64.04 526.53 L64.46 526.53 L64.88 526.54 L65.3 526.54 L65.71 526.55 L66.13 526.56 L66.55 526.56 L66.97 526.57 L67.39 526.57 L67.8 526.58 L68.22 526.58 L68.64 526.59 L69.06 526.6 L69.48 526.6 L69.89 526.61 L70.31 526.61 L70.73 526.62 L71.15 526.62 L71.57 526.63 L71.98 526.64 L72.4 526.64 L72.82 526.65 L73.24 526.65 L73.66 526.66 L74.07 526.66 L74.49 526.67 L74.91 526.68 L75.33 526.68 L75.75 526.69 L76.16 526.69 L76.58 526.7 L77 526.71 L77.42 526.71 L77.84 526.72 L78.26 526.72 L78.67 526.73 L79.09 526.73 L79.51 526.74 L79.93 526.75 L80.35 526.75 L80.76 526.76 L81.18 526.76 L81.6 526.77 L82.02 526.77 L82.44 526.78 L82.85 526.79 L83.27 526.79 L83.69 526.8 L84.11 526.8 L84.53 526.81 L84.94 526.81 L85.36 526.82 L85.78 526.83 L86.2 526.83 L86.62 526.84 L87.03 526.84 L87.45 526.85 L87.87 526.85 L88.29 526.86 L88.71 526.87 L89.12 526.87 L89.54 526.88 L89.96 526.88 L90.38 526.89 L90.8 526.9 L91.21 526.9 L91.63 526.91 L92.05 526.91 L92.47 526.92 L92.89 526.92 L93.3 526.93 L93.72 526.94 L94.14 526.94 L94.56 526.95 L94.98 526.95 L95.39 526.96 L95.81 526.96 L96.23 526.97 L96.65 526.98 L97.07 526.98 L97.48 526.99 L97.9 526.99 L98.32 527 L98.74 527 L99.16 527.01 L99.57 527.02 L99.99 527.02 L100.41 527.03 L100.83 527.03 L101.25 527.04 L101.66 527.04 L102.08 527.05 L102.5 527.06 L102.92 527.06 L103.34 527.07 L103.76 527.07 L104.17 527.08 L104.59 527.09 L105.01 527.09 L105.43 527.1 L105.85 527.1 L106.26 527.11 L106.68 527.11 L107.1 527.12 L107.52 527.13 L107.94 527.13 L108.35 527.14 L108.77 527.14 L109.19 527.15 L109.61 527.15 L110.03 527.16 L110.44 527.17 L110.86 527.17 L111.28 527.18 L111.7 527.18 L112.12 527.19 L112.53 527.19 L112.95 527.2 L113.37 527.21 L113.79 527.21 L114.21 527.22 L114.62 527.22 L115.04 527.23 L115.46 527.24 L115.88 527.24 L116.3 527.25 L116.71 527.25 L117.13 527.26 L117.55 527.26 L117.97 527.27 L118.39 527.28 L118.8 527.28 L119.22 527.29 L119.64 527.29 L120.06 527.3 L120.48 527.3 L120.89 527.31 L121.31 527.32 L121.73 527.32 L122.15 527.33 L122.57 527.33 L122.98 527.34 L123.4 527.34 L123.82 527.35 L124.24 527.36 L124.66 527.36 L125.07 527.37 L125.49 527.37 L125.91 527.38 L126.33 527.38 L126.75 527.39 L127.16 527.4 L127.58 527.4 L128 527.41 L128.42 527.41 L128.84 527.42 L129.25 527.43 L129.67 527.43 L130.09 527.44 L130.51 527.44 L130.93 527.45 L131.35 527.45 L131.76 527.46 L132.18 527.47 L132.6 527.47 L133.02 527.48 L133.44 527.48 L133.85 527.49 L134.27 527.49 L134.69 527.5 L135.11 527.51 L135.53 527.51 L135.94 527.52 L136.36 527.52 L136.78 527.53 L137.2 527.53 L137.62 527.54 L138.03 527.55 L138.45 527.55 L138.87 527.56 L139.29 527.56 L139.71 527.57 L140.12 527.58 L140.54 527.58 L140.96 527.59 L141.38 527.59 L141.8 527.6 L142.21 527.6 L142.63 527.61 L143.05 527.62 L143.47 527.62 L143.89 527.63 L144.3 527.63 L144.72 527.64 L145.14 527.64 L145.56 527.65 L145.98 527.66 L146.39 527.66 L146.81 527.67 L147.23 527.67 L147.65 527.68 L148.07 527.68 L148.48 527.69 L148.9 527.7 L149.32 527.7 L149.74 527.71 L150.16 527.71 L150.57 527.72 L150.99 527.72 L151.41 527.73 L151.83 527.74 L152.25 527.74 L152.66 527.75 L153.08 527.75 L153.5 527.76 L153.92 527.77 L154.34 527.77 L154.75 527.78 L155.17 527.78 L155.59 527.79 L156.01 527.79 L156.43 527.8 L156.84 527.81 L157.26 527.81 L157.68 527.82 L158.1 527.82 L158.52 527.83 L158.94 527.83 L159.35 527.84 L159.77 527.85 L160.19 527.85 L160.61 527.86 L161.03 527.86 L161.44 527.87 L161.86 527.87 L162.28 527.88 L162.7 527.89 L163.12 527.89 L163.53 527.9 L163.95 527.9 L164.37 527.91 L164.79 527.91 L165.21 527.92 L165.62 527.93 L166.04 527.93 L166.46 527.94 L166.88 527.94 L167.3 527.95 L167.71 527.96 L168.13 527.96 L168.55 527.97 L168.97 527.97 L169.39 527.98 L169.8 527.98 L170.22 527.99 L170.64 528 L171.06 528 L171.48 528.01 L171.89 528.01 L172.31 528.02 L172.73 528.02 L173.15 528.03 L173.57 528.04 L173.98 528.04 L174.4 528.05 L174.82 528.05 L175.24 528.06 L175.66 528.06 L176.07 528.07 L176.49 528.08 L176.91 528.08 L177.33 528.09 L177.75 528.09 L178.16 528.1 L178.58 528.11 L179 528.11 L179.42 528.12 L179.84 528.12 L180.25 528.13 L180.67 528.13 L181.09 528.14 L181.51 528.15 L181.93 528.15 L182.34 528.16 L182.76 528.16 L183.18 528.17 L183.6 528.17 L184.02 528.18 L184.43 528.19 L184.85 528.19 L185.27 528.2 L185.69 528.2 L186.11 528.21 L186.53 528.21 L186.94 528.22 L187.36 528.23 L187.78 528.23 L188.2 528.24 L188.62 528.24 L189.03 528.25 L189.45 528.25 L189.87 528.26 L190.29 528.27 L190.71 528.27 L191.12 528.28 L191.54 528.28 L191.96 528.29 L192.38 528.3 L192.8 528.3 L193.21 528.31 L193.63 528.31 L194.05 528.32 L194.47 528.32 L194.89 528.33 L195.3 528.34 L195.72 528.34 L196.14 528.35 L196.56 528.35 L196.98 528.36 L197.39 528.36 L197.81 528.37 L198.23 528.38 L198.65 528.38 L199.07 528.39 L199.48 528.39 L199.9 528.4 L200.32 528.4 L200.74 528.41 L201.16 528.42 L201.57 528.42 L201.99 528.43 L202.41 528.43 L202.83 528.44 L203.25 528.44 L203.66 528.45 L204.08 528.46 L204.5 528.46 L204.92 528.47 L205.34 528.47 L205.75 528.48 L206.17 528.49 L206.59 528.49 L207.01 528.5 L207.43 528.5 L207.84 528.51 L208.26 528.51 L208.68 528.52 L209.1 528.53 L209.52 528.53 L209.93 528.54 L210.35 528.54 L210.77 528.55 L211.19 528.55 L211.61 528.56 L212.03 528.57 L212.44 528.57 L212.86 528.58 L213.28 528.58 L213.7 528.59 L214.12 528.59 L214.53 528.6 L214.95 528.61 L215.37 528.61 L215.79 528.62 L216.21 528.62 L216.62 528.63 L217.04 528.64 L217.46 528.64 L217.88 528.65 L218.3 528.65 L218.71 528.66 L219.13 528.66 L219.55 528.67 L219.97 528.68 L220.39 528.68 L220.8 528.69 L221.22 528.69 L221.64 528.7 L222.06 528.7 L222.48 528.71 L222.89 528.72 L223.31 528.72 L223.73 528.73 L224.15 528.73 L224.57 528.74 L224.98 528.74 L225.4 528.75 L225.82 528.76 L226.24 528.76 L226.66 528.77 L227.07 528.77 L227.49 528.78 L227.91 528.78 L228.33 528.79 L228.75 528.8 L229.16 528.8 L229.58 528.81 L230 528.81 L230.42 528.82 L230.84 528.83 L231.25 528.83 L231.67 528.84 L232.09 528.84 L232.51 528.85 L232.93 528.85 L233.34 528.86 L233.76 528.87 L234.18 528.87 L234.6 528.88 L235.02 528.88 L235.43 528.89 L235.85 528.89 L236.27 528.9 L236.69 528.91 L237.11 528.91 L237.52 528.92 L237.94 528.92 L238.36 528.93 L238.78 528.93 L239.2 528.94 L239.62 528.95 L240.03 528.95 L240.45 528.96 L240.87 528.96 L241.29 528.97 L241.71 528.98 L242.12 528.98 L242.54 528.99 L242.96 528.99 L243.38 529 L243.8 529 L244.21 529.01 L244.63 529.02 L245.05 529.02 L245.47 529.03 L245.89 529.03 L246.3 529.04 L246.72 529.04 L247.14 529.05 L247.56 529.06 L247.98 529.06 L248.39 529.07 L248.81 529.07 L249.23 529.08 L249.65 529.08 L250.07 529.09 L250.48 529.1 L250.9 529.1 L251.32 529.11 L251.74 529.11 L252.16 529.12 L252.57 529.12 L252.99 529.13 L253.41 529.14 L253.83 529.14 L254.25 529.15 L254.66 529.15 L255.08 529.16 L255.5 529.17 L255.92 529.17 L256.34 529.18 L256.75 529.18 L257.17 529.19 L257.59 529.19 L258.01 529.2 L258.43 529.21 L258.84 529.21 L259.26 529.22 L259.68 529.22 L260.1 529.23 L260.52 529.23 L260.93 529.24 L261.35 529.25 L261.77 529.25 L262.19 529.26 L262.61 529.26 L263.02 529.27 L263.44 529.27 L263.86 529.28 L264.28 529.29 L264.7 529.29 L265.11 529.3 L265.53 529.3 L265.95 529.31 L266.37 529.31 L266.79 529.32 L267.21 529.33 L267.62 529.33 L268.04 529.34 L268.46 529.34 L268.88 529.35 L269.3 529.36 L269.71 529.36 L270.13 529.37 L270.55 529.37 L270.97 529.38 L271.39 529.38 L271.8 529.39 L272.22 529.4 L272.64 529.4 L273.06 529.41 L273.48 529.41 L273.89 529.42 L274.31 529.42 L274.73 529.43 L275.15 529.44 L275.57 529.44 L275.98 529.45 L276.4 529.45 L276.82 529.46 L277.24 529.46 L277.66 529.47 L278.07 529.48 L278.49 529.48 L278.91 529.49 L279.33 529.49 L279.75 529.5 L280.16 529.51 L280.58 529.51 L281 529.52 L281.42 529.52 L281.84 529.53 L282.25 529.53 L282.67 529.54 L283.09 529.55 L283.51 529.55 L283.93 529.56 L284.34 529.56 L284.76 529.57 L285.18 529.57 L285.6 529.58 L286.02 529.59 L286.43 529.59 L286.85 529.6 L287.27 529.6 L287.69 529.61 L288.11 529.61 L288.52 529.62 L288.94 529.63 L289.36 529.63 L289.78 529.64 L290.2 529.64 L290.61 529.65 L291.03 529.65 L291.45 529.66 L291.87 529.67 L292.29 529.67 L292.7 529.68 L293.12 529.68 L293.54 529.69 L293.96 529.7 L294.38 529.7 L294.8 529.71 L295.21 529.71 L295.63 529.72 L296.05 529.72 L296.47 529.73 L296.89 529.74 L297.3 529.74 L297.72 529.75 L298.14 529.75 L298.56 529.76 L298.98 529.76 L299.39 529.77 L299.81 529.78 L300.23 529.78 L300.65 529.79 L301.07 529.79 L301.48 529.8 L301.9 529.8 L302.32 529.81 L302.74 529.82 L303.16 529.82 L303.57 529.83 L303.99 529.83 L304.41 529.84 L304.83 529.84 L305.25 529.85 L305.66 529.86 L306.08 529.86 L306.5 529.87" fill="none" stroke="#3030ff" stroke-width="1.35" stroke-linejoin="round" />
<path d="M56.1 526.35 L56.52 526.36 L56.94 526.36 L57.35 526.37 L57.77 526.37 L58.19 526.38 L58.61 526.38 L59.03 526.39 L59.44 526.39 L59.86 526.4 L60.28 526.4 L60.7 526.41 L61.12 526.41 L61.53 526.42 L61.95 526.42 L62.37 526.43 L62.79 526.43 L63.21 526.44 L63.62 526.44 L64.04 526.45 L64.46 526.45 L64.88 526.46 L65.3 526.46 L65.71 526.47 L66.13 526.47 L66.55 526.48 L66.97 526.48 L67.39 526.49 L67.8 526.49 L68.22 526.5 L68.64 526.5 L69.06 526.51 L69.48 526.51 L69.89 526.52 L70.31 526.52 L70.73 526.53 L71.15 526.53 L71.57 526.54 L71.98 526.54 L72.4 526.55 L72.82 526.55 L73.24 526.56 L73.66 526.56 L74.07 526.57 L74.49 526.57 L74.91 526.58 L75.33 526.58 L75.75 526.59 L76.16 526.59 L76.58 526.6 L77 526.6 L77.42 526.61 L77.84 526.61 L78.26 526.61 L78.67 526.62 L79.09 526.62 L79.51 526.63 L79.93 526.63 L80.35 526.64 L80.76 526.64 L81.18 526.65 L81.6 526.65 L82.02 526.66 L82.44 526.66 L82.85 526.66 L83.27 526.67 L83.69 526.67 L84.11 526.68 L84.53 526.68 L84.94 526.69 L85.36 526.69 L85.78 526.7 L86.2 526.7 L86.62 526.7 L87.03 526.71 L87.45 526.71 L87.87 526.72 L88.29 526.72 L88.71 526.72 L89.12 526.73 L89.54 526.73 L89.96 526.74 L90.38 526.74 L90.8 526.74 L91.21 526.75 L91.63 526.75 L92.05 526.76 L92.47 526.76 L92.89 526.76 L93.3 526.77 L93.72 526.77 L94.14 526.77 L94.56 526.78 L94.98 526.78 L95.39 526.78 L95.81 526.79 L96.23 526.79 L96.65 526.79 L97.07 526.8 L97.48 526.8 L97.9 526.8 L98.32 526.8 L98.74 526.81 L99.16 526.81 L99.57 526.81 L99.99 526.81 L100.41 526.82 L100.83 526.82 L101.25 526.82 L101.66 526.82 L102.08 526.82 L102.5 526.82 L102.92 526.82 L103.34 526.83 L103.76 526.83 L104.17 526.83 L104.59 526.82 L105.01 526.82 L105.43 526.82 L105.85 526.82 L106.26 526.82 L106.68 526.81 L107.1 526.81 L107.52 526.8 L107.94 526.8 L108.35 526.79 L108.77 526.78 L109.19 526.77 L109.61 526.76 L110.03 526.75 L110.44 526.74 L110.86 526.72 L111.28 526.71 L111.7 526.69 L112.12 526.67 L112.53 526.64 L112.95 526.62 L113.37 526.59 L113.79 526.56 L114.21 526.52 L114.62 526.48 L115.04 526.44 L115.46 526.39 L115.88 526.34 L116.3 526.28 L116.71 526.22 L117.13 526.15 L117.55 526.08 L117.97 526 L118.39 525.91 L118.8 525.81 L119.22 525.71 L119.64 525.6 L120.06 525.48 L120.48 525.35 L120.89 525.2 L121.31 525.05 L121.73 524.89 L122.15 524.71 L122.57 524.52 L122.98 524.32 L123.4 524.1 L123.82 523.86 L124.24 523.61 L124.66 523.35 L125.07 523.06 L125.49 522.76 L125.91 522.44 L126.33 522.1 L126.75 521.73 L127.16 521.35 L127.58 520.94 L128 520.51 L128.42 520.06 L128.84 519.58 L129.25 519.08 L129.67 518.55 L130.09 517.99 L130.51 517.41 L130.93 516.8 L131.35 516.17 L131.76 515.5 L132.18 514.81 L132.6 514.08 L133.02 513.33 L133.44 512.55 L133.85 511.74 L134.27 510.91 L134.69 510.04 L135.11 509.15 L135.53 508.23 L135.94 507.28 L136.36 506.3 L136.78 505.3 L137.2 504.28 L137.62 503.23 L138.03 502.16 L138.45 501.07 L138.87 499.96 L139.29 498.83 L139.71 497.69 L140.12 496.53 L140.54 495.36 L140.96 494.17 L141.38 492.98 L141.8 491.79 L142.21 490.59 L142.63 489.38 L143.05 488.18 L143.47 486.99 L143.89 485.8 L144.3 484.62 L144.72 483.45 L145.14 482.3 L145.56 481.17 L145.98 480.06 L146.39 478.97 L146.81 477.91 L147.23 476.88 L147.65 475.88 L148.07 474.92 L148.48 474 L148.9 473.12 L149.32 472.29 L149.74 471.5 L150.16 470.76 L150.57 470.08 L150.99 469.45 L151.41 468.88 L151.83 468.36 L152.25 467.91 L152.66 467.52 L153.08 467.19 L153.5 466.93 L153.92 466.73 L154.34 466.6 L154.75 466.54 L155.17 466.54 L155.59 466.61 L156.01 466.75 L156.43 466.95 L156.84 467.22 L157.26 467.56 L157.68 467.96 L158.1 468.42 L158.52 468.94 L158.94 469.52 L159.35 470.16 L159.77 470.85 L160.19 471.6 L160.61 472.39 L161.03 473.24 L161.44 474.12 L161.86 475.05 L162.28 476.02 L162.7 477.03 L163.12 478.07 L163.53 479.14 L163.95 480.23 L164.37 481.36 L164.79 482.5 L165.21 483.66 L165.62 484.84 L166.04 486.03 L166.46 487.23 L166.88 488.44 L167.3 489.65 L167.71 490.86 L168.13 492.07 L168.55 493.28 L168.97 494.48 L169.39 495.68 L169.8 496.86 L170.22 498.04 L170.64 499.19 L171.06 500.33 L171.48 501.46 L171.89 502.56 L172.31 503.64 L172.73 504.71 L173.15 505.74 L173.57 506.76 L173.98 507.74 L174.4 508.7 L174.82 509.64 L175.24 510.55 L175.66 511.42 L176.07 512.27 L176.49 513.1 L176.91 513.89 L177.33 514.65 L177.75 515.39 L178.16 516.1 L178.58 516.77 L179 517.43 L179.42 518.05 L179.84 518.64 L180.25 519.21 L180.67 519.75 L181.09 520.27 L181.51 520.76 L181.93 521.23 L182.34 521.67 L182.76 522.09 L183.18 522.49 L183.6 522.86 L184.02 523.22 L184.43 523.55 L184.85 523.87 L185.27 524.17 L185.69 524.44 L186.11 524.71 L186.53 524.95 L186.94 525.18 L187.36 525.4 L187.78 525.6 L188.2 525.79 L188.62 525.97 L189.03 526.13 L189.45 526.29 L189.87 526.43 L190.29 526.57 L190.71 526.69 L191.12 526.81 L191.54 526.91 L191.96 527.01 L192.38 527.1 L192.8 527.19 L193.21 527.27 L193.63 527.34 L194.05 527.41 L194.47 527.48 L194.89 527.54 L195.3 527.59 L195.72 527.64 L196.14 527.69 L196.56 527.73 L196.98 527.77 L197.39 527.81 L197.81 527.85 L198.23 527.88 L198.65 527.91 L199.07 527.94 L199.48 527.96 L199.9 527.99 L200.32 528.01 L200.74 528.03 L201.16 528.06 L201.57 528.08 L201.99 528.09 L202.41 528.11 L202.83 528.13 L203.25 528.14 L203.66 528.16 L204.08 528.17 L204.5 528.19 L204.92 528.2 L205.34 528.21 L205.75 528.22 L206.17 528.24 L206.59 528.25 L207.01 528.26 L207.43 528.27 L207.84 528.28 L208.26 528.29 L208.68 528.3 L209.1 528.31 L209.52 528.32 L209.93 528.33 L210.35 528.34 L210.77 528.35 L211.19 528.36 L211.61 528.37 L212.03 528.37 L212.44 528.38 L212.86 528.39 L213.28 528.4 L213.7 528.41 L214.12 528.42 L214.53 528.43 L214.95 528.43 L215.37 528.44 L215.79 528.45 L216.21 528.46 L216.62 528.47 L217.04 528.47 L217.46 528.48 L217.88 528.49 L218.3 528.5 L218.71 528.5 L219.13 528.51 L219.55 528.52 L219.97 528.53 L220.39 528.54 L220.8 528.54 L221.22 528.55 L221.64 528.56 L222.06 528.57 L222.48 528.57 L222.89 528.58 L223.31 528.59 L223.73 528.59 L224.15 528.6 L224.57 528.61 L224.98 528.62 L225.4 528.62 L225.82 528.63 L226.24 528.64 L226.66 528.65 L227.07 528.65 L227.49 528.66 L227.91 528.67 L228.33 528.67 L228.75 528.68 L229.16 528.69 L229.58 528.69 L230 528.7 L230.42 528.71 L230.84 528.72 L231.25 528.72 L231.67 528.73 L232.09 528.74 L232.51 528.74 L232.93 528.75 L233.34 528.76 L233.76 528.76 L234.18 528.77 L234.6 528.78 L235.02 528.78 L235.43 528.79 L235.85 528.8 L236.27 528.8 L236.69 528.81 L237.11 528.82 L237.52 528.82 L237.94 528.83 L238.36 528.84 L238.78 528.84 L239.2 528.85 L239.62 528.86 L240.03 528.86 L240.45 528.87 L240.87 528.88 L241.29 528.88 L241.71 528.89 L242.12 528.9 L242.54 528.9 L242.96 528.91 L243.38 528.92 L243.8 528.92 L244.21 528.93 L244.63 528.94 L245.05 528.94 L245.47 528.95 L245.89 528.96 L246.3 528.96 L246.72 528.97 L247.14 528.97 L247.56 528.98 L247.98 528.99 L248.39 528.99 L248.81 529 L249.23 529.01 L249.65 529.01 L250.07 529.02 L250.48 529.03 L250.9 529.03 L251.32 529.04 L251.74 529.04 L252.16 529.05 L252.57 529.06 L252.99 529.06 L253.41 529.07 L253.83 529.08 L254.25 529.08 L254.66 529.09 L255.08 529.1 L255.5 529.1 L255.92 529.11 L256.34 529.11 L256.75 529.12 L257.17 529.13 L257.59 529.13 L258.01 529.14 L258.43 529.15 L258.84 529.15 L259.26 529.16 L259.68 529.16 L260.1 529.17 L260.52 529.18 L260.93 529.18 L261.35 529.19 L261.77 529.2 L262.19 529.2 L262.61 529.21 L263.02 529.21 L263.44 529.22 L263.86 529.23 L264.28 529.23 L264.7 529.24 L265.11 529.24 L265.53 529.25 L265.95 529.26 L266.37 529.26 L266.79 529.27 L267.21 529.28 L267.62 529.28 L268.04 529.29 L268.46 529.29 L268.88 529.3 L269.3 529.31 L269.71 529.31 L270.13 529.32 L270.55 529.32 L270.97 529.33 L271.39 529.34 L271.8 529.34 L272.22 529.35 L272.64 529.35 L273.06 529.36 L273.48 529.37 L273.89 529.37 L274.31 529.38 L274.73 529.39 L275.15 529.39 L275.57 529.4 L275.98 529.4 L276.4 529.41 L276.82 529.42 L277.24 529.42 L277.66 529.43 L278.07 529.43 L278.49 529.44 L278.91 529.45 L279.33 529.45 L279.75 529.46 L280.16 529.46 L280.58 529.47 L281 529.48 L281.42 529.48 L281.84 529.49 L282.25 529.49 L282.67 529.5 L283.09 529.51 L283.51 529.51 L283.93 529.52 L284.34 529.52 L284.76 529.53 L285.18 529.54 L285.6 529.54 L286.02 529.55 L286.43 529.55 L286.85 529.56 L287.27 529.57 L287.69 529.57 L288.11 529.58 L288.52 529.58 L288.94 529.59 L289.36 529.6 L289.78 529.6 L290.2 529.61 L290.61 529.61 L291.03 529.62 L291.45 529.63 L291.87 529.63 L292.29 529.64 L292.7 529.64 L293.12 529.65 L293.54 529.66 L293.96 529.66 L294.38 529.67 L294.8 529.67 L295.21 529.68 L295.63 529.69 L296.05 529.69 L296.47 529.7 L296.89 529.7 L297.3 529.71 L297.72 529.72 L298.14 529.72 L298.56 529.73 L298.98 529.73 L299.39 529.74 L299.81 529.74 L300.23 529.75 L300.65 529.76 L301.07 529.76 L301.48 529.77 L301.9 529.77 L302.32 529.78 L302.74 529.79 L303.16 529.79 L303.57 529.8 L303.99 529.8 L304.41 529.81 L304.83 529.82 L305.25 529.82 L305.66 529.83 L306.08 529.83 L306.5 529.84" fill="none" stroke="#2a2ab4" stroke-width="1.35" stroke-linejoin="round" />
<path d="M56.1 526.26 L56.52 526.25 L56.94 526.25 L57.35 526.24 L57.77 526.24 L58.19 526.23 L58.61 526.23 L59.03 526.22 L59.44 526.21 L59.86 526.21 L60.28 526.2 L60.7 526.19 L61.12 526.18 L61.53 526.17 L61.95 526.16 L62.37 526.15 L62.79 526.14 L63.21 526.12 L63.62 526.11 L64.04 526.09 L64.46 526.08 L64.88 526.06 L65.3 526.04 L65.71 526.02 L66.13 526 L66.55 525.98 L66.97 525.96 L67.39 525.94 L67.8 525.91 L68.22 525.89 L68.64 525.86 L69.06 525.84 L69.48 525.81 L69.89 525.78 L70.31 525.74 L70.73 525.71 L71.15 525.68 L71.57 525.64 L71.98 525.6 L72.4 525.56 L72.82 525.52 L73.24 525.48 L73.66 525.44 L74.07 525.39 L74.49 525.34 L74.91 525.29 L75.33 525.24 L75.75 525.19 L76.16 525.13 L76.58 525.08 L77 525.02 L77.42 524.96 L77.84 524.9 L78.26 524.83 L78.67 524.76 L79.09 524.69 L79.51 524.62 L79.93 524.55 L80.35 524.47 L80.76 524.4 L81.18 524.32 L81.6 524.23 L82.02 524.15 L82.44 524.06 L82.85 523.97 L83.27 523.88 L83.69 523.79 L84.11 523.69 L84.53 523.59 L84.94 523.49 L85.36 523.38 L85.78 523.28 L86.2 523.17 L86.62 523.05 L87.03 522.94 L87.45 522.82 L87.87 522.7 L88.29 522.58 L88.71 522.46 L89.12 522.33 L89.54 522.2 L89.96 522.07 L90.38 521.94 L90.8 521.8 L91.21 521.66 L91.63 521.52 L92.05 521.38 L92.47 521.23 L92.89 521.08 L93.3 520.93 L93.72 520.78 L94.14 520.62 L94.56 520.47 L94.98 520.31 L95.39 520.15 L95.81 519.98 L96.23 519.82 L96.65 519.65 L97.07 519.48 L97.48 519.31 L97.9 519.14 L98.32 518.97 L98.74 518.79 L99.16 518.62 L99.57 518.44 L99.99 518.26 L100.41 518.08 L100.83 517.9 L101.25 517.72 L101.66 517.54 L102.08 517.36 L102.5 517.17 L102.92 516.99 L103.34 516.81 L103.76 516.62 L104.17 516.44 L104.59 516.25 L105.01 516.07 L105.43 515.89 L105.85 515.7 L106.26 515.52 L106.68 515.34 L107.1 515.16 L107.52 514.98 L107.94 514.8 L108.35 514.62 L108.77 514.44 L109.19 514.27 L109.61 514.09 L110.03 513.92 L110.44 513.75 L110.86 513.59 L111.28 513.42 L111.7 513.26 L112.12 513.1 L112.53 512.94 L112.95 512.78 L113.37 512.63 L113.79 512.48 L114.21 512.34 L114.62 512.19 L115.04 512.05 L115.46 511.92 L115.88 511.79 L116.3 511.66 L116.71 511.53 L117.13 511.41 L117.55 511.3 L117.97 511.18 L118.39 511.08 L118.8 510.97 L119.22 510.87 L119.64 510.78 L120.06 510.69 L120.48 510.61 L120.89 510.53 L121.31 510.45 L121.73 510.38 L122.15 510.32 L122.57 510.26 L122.98 510.21 L123.4 510.16 L123.82 510.12 L124.24 510.08 L124.66 510.05 L125.07 510.02 L125.49 510 L125.91 509.98 L126.33 509.97 L126.75 509.97 L127.16 509.97 L127.58 509.98 L128 509.99 L128.42 510.01 L128.84 510.03 L129.25 510.06 L129.67 510.1 L130.09 510.14 L130.51 510.18 L130.93 510.24 L131.35 510.29 L131.76 510.36 L132.18 510.42 L132.6 510.5 L133.02 510.57 L133.44 510.66 L133.85 510.75 L134.27 510.84 L134.69 510.94 L135.11 511.04 L135.53 511.15 L135.94 511.26 L136.36 511.38 L136.78 511.5 L137.2 511.63 L137.62 511.76 L138.03 511.89 L138.45 512.03 L138.87 512.17 L139.29 512.31 L139.71 512.46 L140.12 512.62 L140.54 512.77 L140.96 512.93 L141.38 513.09 L141.8 513.26 L142.21 513.43 L142.63 513.6 L143.05 513.77 L143.47 513.95 L143.89 514.12 L144.3 514.3 L144.72 514.49 L145.14 514.67 L145.56 514.86 L145.98 515.04 L146.39 515.23 L146.81 515.42 L147.23 515.61 L147.65 515.81 L148.07 516 L148.48 516.19 L148.9 516.39 L149.32 516.58 L149.74 516.78 L150.16 516.97 L150.57 517.17 L150.99 517.36 L151.41 517.56 L151.83 517.76 L152.25 517.95 L152.66 518.14 L153.08 518.34 L153.5 518.53 L153.92 518.72 L154.34 518.92 L154.75 519.11 L155.17 519.3 L155.59 519.48 L156.01 519.67 L156.43 519.86 L156.84 520.04 L157.26 520.22 L157.68 520.4 L158.1 520.58 L158.52 520.76 L158.94 520.93 L159.35 521.11 L159.77 521.28 L160.19 521.45 L160.61 521.62 L161.03 521.78 L161.44 521.95 L161.86 522.11 L162.28 522.27 L162.7 522.42 L163.12 522.58 L163.53 522.73 L163.95 522.88 L164.37 523.02 L164.79 523.17 L165.21 523.31 L165.62 523.45 L166.04 523.59 L166.46 523.72 L166.88 523.85 L167.3 523.98 L167.71 524.11 L168.13 524.24 L168.55 524.36 L168.97 524.48 L169.39 524.59 L169.8 524.71 L170.22 524.82 L170.64 524.93 L171.06 525.04 L171.48 525.14 L171.89 525.25 L172.31 525.35 L172.73 525.44 L173.15 525.54 L173.57 525.63 L173.98 525.72 L174.4 525.81 L174.82 525.9 L175.24 525.98 L175.66 526.06 L176.07 526.14 L176.49 526.22 L176.91 526.29 L177.33 526.37 L177.75 526.44 L178.16 526.51 L178.58 526.58 L179 526.64 L179.42 526.7 L179.84 526.77 L180.25 526.83 L180.67 526.88 L181.09 526.94 L181.51 527 L181.93 527.05 L182.34 527.1 L182.76 527.15 L183.18 527.2 L183.6 527.25 L184.02 527.29 L184.43 527.33 L184.85 527.38 L185.27 527.42 L185.69 527.46 L186.11 527.5 L186.53 527.54 L186.94 527.57 L187.36 527.61 L187.78 527.64 L188.2 527.67 L188.62 527.71 L189.03 527.74 L189.45 527.77 L189.87 527.79 L190.29 527.82 L190.71 527.85 L191.12 527.88 L191.54 527.9 L191.96 527.92 L192.38 527.95 L192.8 527.97 L193.21 527.99 L193.63 528.01 L194.05 528.04 L194.47 528.06 L194.89 528.07 L195.3 528.09 L195.72 528.11 L196.14 528.13 L196.56 528.15 L196.98 528.16 L197.39 528.18 L197.81 528.19 L198.23 528.21 L198.65 528.22 L199.07 528.24 L199.48 528.25 L199.9 528.27 L200.32 528.28 L200.74 528.29 L201.16 528.3 L201.57 528.32 L201.99 528.33 L202.41 528.34 L202.83 528.35 L203.25 528.36 L203.66 528.37 L204.08 528.38 L204.5 528.39 L204.92 528.4 L205.34 528.41 L205.75 528.42 L206.17 528.43 L206.59 528.44 L207.01 528.45 L207.43 528.46 L207.84 528.47 L208.26 528.47 L208.68 528.48 L209.1 528.49 L209.52 528.5 L209.93 528.51 L210.35 528.51 L210.77 528.52 L211.19 528.53 L211.61 528.54 L212.03 528.54 L212.44 528.55 L212.86 528.56 L213.28 528.56 L213.7 528.57 L214.12 528.58 L214.53 528.59 L214.95 528.59 L215.37 528.6 L215.79 528.61 L216.21 528.61 L216.62 528.62 L217.04 528.62 L217.46 528.63 L217.88 528.64 L218.3 528.64 L218.71 528.65 L219.13 528.66 L219.55 528.66 L219.97 528.67 L220.39 528.68 L220.8 528.68 L221.22 528.69 L221.64 528.69 L222.06 528.7 L222.48 528.71 L222.89 528.71 L223.31 528.72 L223.73 528.72 L224.15 528.73 L224.57 528.74 L224.98 528.74 L225.4 528.75 L225.82 528.75 L226.24 528.76 L226.66 528.77 L227.07 528.77 L227.49 528.78 L227.91 528.78 L228.33 528.79 L228.75 528.8 L229.16 528.8 L229.58 528.81 L230 528.81 L230.42 528.82 L230.84 528.82 L231.25 528.83 L231.67 528.84 L232.09 528.84 L232.51 528.85 L232.93 528.85 L233.34 528.86 L233.76 528.87 L234.18 528.87 L234.6 528.88 L235.02 528.88 L235.43 528.89 L235.85 528.89 L236.27 528.9 L236.69 528.91 L237.11 528.91 L237.52 528.92 L237.94 528.92 L238.36 528.93 L238.78 528.93 L239.2 528.94 L239.62 528.95 L240.03 528.95 L240.45 528.96 L240.87 528.96 L241.29 528.97 L241.71 528.97 L242.12 528.98 L242.54 528.99 L242.96 528.99 L243.38 529 L243.8 529 L244.21 529.01 L244.63 529.02 L245.05 529.02 L245.47 529.03 L245.89 529.03 L246.3 529.04 L246.72 529.04 L247.14 529.05 L247.56 529.06 L247.98 529.06 L248.39 529.07 L248.81 529.07 L249.23 529.08 L249.65 529.08 L250.07 529.09 L250.48 529.1 L250.9 529.1 L251.32 529.11 L251.74 529.11 L252.16 529.12 L252.57 529.12 L252.99 529.13 L253.41 529.14 L253.83 529.14 L254.25 529.15 L254.66 529.15 L255.08 529.16 L255.5 529.17 L255.92 529.17 L256.34 529.18 L256.75 529.18 L257.17 529.19 L257.59 529.19 L258.01 529.2 L258.43 529.21 L258.84 529.21 L259.26 529.22 L259.68 529.22 L260.1 529.23 L260.52 529.23 L260.93 529.24 L261.35 529.25 L261.77 529.25 L262.19 529.26 L262.61 529.26 L263.02 529.27 L263.44 529.27 L263.86 529.28 L264.28 529.29 L264.7 529.29 L265.11 529.3 L265.53 529.3 L265.95 529.31 L266.37 529.31 L266.79 529.32 L267.21 529.33 L267.62 529.33 L268.04 529.34 L268.46 529.34 L268.88 529.35 L269.3 529.36 L269.71 529.36 L270.13 529.37 L270.55 529.37 L270.97 529.38 L271.39 529.38 L271.8 529.39 L272.22 529.4 L272.64 529.4 L273.06 529.41 L273.48 529.41 L273.89 529.42 L274.31 529.42 L274.73 529.43 L275.15 529.44 L275.57 529.44 L275.98 529.45 L276.4 529.45 L276.82 529.46 L277.24 529.46 L277.66 529.47 L278.07 529.48 L278.49 529.48 L278.91 529.49 L279.33 529.49 L279.75 529.5 L280.16 529.51 L280.58 529.51 L281 529.52 L281.42 529.52 L281.84 529.53 L282.25 529.53 L282.67 529.54 L283.09 529.55 L283.51 529.55 L283.93 529.56 L284.34 529.56 L284.76 529.57 L285.18 529.57 L285.6 529.58 L286.02 529.59 L286.43 529.59 L286.85 529.6 L287.27 529.6 L287.69 529.61 L288.11 529.61 L288.52 529.62 L288.94 529.63 L289.36 529.63 L289.78 529.64 L290.2 529.64 L290.61 529.65 L291.03 529.65 L291.45 529.66 L291.87 529.67 L292.29 529.67 L292.7 529.68 L293.12 529.68 L293.54 529.69 L293.96 529.7 L294.38 529.7 L294.8 529.71 L295.21 529.71 L295.63 529.72 L296.05 529.72 L296.47 529.73 L296.89 529.74 L297.3 529.74 L297.72 529.75 L298.14 529.75 L298.56 529.76 L298.98 529.76 L299.39 529.77 L299.81 529.78 L300.23 529.78 L300.65 529.79 L301.07 529.79 L301.48 529.8 L301.9 529.8 L302.32 529.81 L302.74 529.82 L303.16 529.82 L303.57 529.83 L303.99 529.83 L304.41 529.84 L304.83 529.84 L305.25 529.85 L305.66 529.86 L306.08 529.86 L306.5 529.87" fill="none" stroke="#a030f8" stroke-width="1.35" stroke-linejoin="round" />
</g>
<g id="pd">
<path d="M416.64 527.56 L417.04 527.55 L417.44 527.55 L417.85 527.55 L418.25 527.54 L418.66 527.54 L419.06 527.53 L419.47 527.53 L419.87 527.52 L420.28 527.52 L420.68 527.51 L421.08 527.51 L421.49 527.5 L421.89 527.5 L422.3 527.5 L422.7 527.49 L423.11 527.49 L423.51 527.48 L423.91 527.48 L424.32 527.47 L424.72 527.47 L425.13 527.46 L425.53 527.45 L425.94 527.45 L426.34 527.44 L426.74 527.44 L427.15 527.43 L427.55 527.43 L427.96 527.42 L428.36 527.42 L428.77 527.41 L429.17 527.4 L429.58 527.4 L429.98 527.39 L430.38 527.39 L430.79 527.38 L431.19 527.37 L431.6 527.37 L432 527.36 L432.41 527.35 L432.81 527.35 L433.21 527.34 L433.62 527.34 L434.02 527.33 L434.43 527.32 L434.83 527.31 L435.24 527.31 L435.64 527.3 L436.04 527.29 L436.45 527.29 L436.85 527.28 L437.26 527.27 L437.66 527.26 L438.07 527.26 L438.47 527.25 L438.88 527.24 L439.28 527.23 L439.68 527.22 L440.09 527.22 L440.49 527.21 L440.9 527.2 L441.3 527.19 L441.71 527.18 L442.11 527.17 L442.51 527.17 L442.92 527.16 L443.32 527.15 L443.73 527.14 L444.13 527.13 L444.54 527.12 L444.94 527.11 L445.35 527.1 L445.75 527.09 L446.15 527.08 L446.56 527.07 L446.96 527.06 L447.37 527.05 L447.77 527.04 L448.18 527.03 L448.58 527.02 L448.98 527.01 L449.39 527 L449.79 526.99 L450.2 526.98 L450.6 526.97 L451.01 526.95 L451.41 526.94 L451.81 526.93 L452.22 526.92 L452.62 526.91 L453.03 526.9 L453.43 526.88 L453.84 526.87 L454.24 526.86 L454.65 526.84 L455.05 526.83 L455.45 526.82 L455.86 526.8 L456.26 526.79 L456.67 526.78 L457.07 526.76 L457.48 526.75 L457.88 526.73 L458.28 526.72 L458.69 526.71 L459.09 526.69 L459.5 526.67 L459.9 526.66 L460.31 526.64 L460.71 526.63 L461.11 526.61 L461.52 526.59 L461.92 526.58 L462.33 526.56 L462.73 526.54 L463.14 526.53 L463.54 526.51 L463.95 526.49 L464.35 526.47 L464.75 526.45 L465.16 526.44 L465.56 526.42 L465.97 526.4 L466.37 526.38 L466.78 526.36 L467.18 526.34 L467.58 526.32 L467.99 526.3 L468.39 526.27 L468.8 526.25 L469.2 526.23 L469.61 526.21 L470.01 526.19 L470.42 526.16 L470.82 526.14 L471.22 526.12 L471.63 526.09 L472.03 526.07 L472.44 526.04 L472.84 526.02 L473.25 525.99 L473.65 525.96 L474.05 525.94 L474.46 525.91 L474.86 525.88 L475.27 525.85 L475.67 525.82 L476.08 525.79 L476.48 525.76 L476.88 525.73 L477.29 525.7 L477.69 525.67 L478.1 525.64 L478.5 525.61 L478.91 525.57 L479.31 525.54 L479.72 525.5 L480.12 525.47 L480.52 525.43 L480.93 525.39 L481.33 525.36 L481.74 525.32 L482.14 525.28 L482.55 525.24 L482.95 525.19 L483.35 525.15 L483.76 525.11 L484.16 525.06 L484.57 525.01 L484.97 524.97 L485.38 524.92 L485.78 524.87 L486.18 524.81 L486.59 524.76 L486.99 524.71 L487.4 524.65 L487.8 524.59 L488.21 524.53 L488.61 524.46 L489.02 524.4 L489.42 524.33 L489.82 524.26 L490.23 524.19 L490.63 524.11 L491.04 524.03 L491.44 523.95 L491.85 523.86 L492.25 523.77 L492.65 523.67 L493.06 523.58 L493.46 523.47 L493.87 523.36 L494.27 523.25 L494.68 523.13 L495.08 523.01 L495.49 522.87 L495.89 522.73 L496.29 522.59 L496.7 522.44 L497.1 522.27 L497.51 522.1 L497.91 521.92 L498.32 521.73 L498.72 521.53 L499.12 521.32 L499.53 521.1 L499.93 520.87 L500.34 520.62 L500.74 520.35 L501.15 520.08 L501.55 519.78 L501.95 519.47 L502.36 519.15 L502.76 518.8 L503.17 518.44 L503.57 518.05 L503.98 517.65 L504.38 517.22 L504.79 516.76 L505.19 516.28 L505.59 515.78 L506 515.25 L506.4 514.69 L506.81 514.1 L507.21 513.47 L507.62 512.82 L508.02 512.13 L508.42 511.41 L508.83 510.65 L509.23 509.85 L509.64 509.01 L510.04 508.13 L510.45 507.21 L510.85 506.24 L511.25 505.23 L511.66 504.17 L512.06 503.06 L512.47 501.9 L512.87 500.7 L513.28 499.43 L513.68 498.12 L514.09 496.75 L514.49 495.32 L514.89 493.84 L515.3 492.3 L515.7 490.69 L516.11 489.03 L516.51 487.31 L516.92 485.52 L517.32 483.67 L517.72 481.76 L518.13 479.78 L518.53 477.74 L518.94 475.64 L519.34 473.47 L519.75 471.23 L520.15 468.93 L520.55 466.57 L520.96 464.14 L521.36 461.65 L521.77 459.1 L522.17 456.49 L522.58 453.82 L522.98 451.09 L523.39 448.3 L523.79 445.46 L524.19 442.56 L524.6 439.62 L525 436.62 L525.41 433.57 L525.81 430.47 L526.22 427.33 L526.62 424.14 L527.02 420.92 L527.43 417.66 L527.83 414.37 L528.24 411.05 L528.64 407.72 L529.05 404.37 L529.45 401.01 L529.86 397.65 L530.26 394.29 L530.66 390.93 L531.07 387.59 L531.47 384.26 L531.88 380.95 L532.28 377.68 L532.69 374.43 L533.09 371.23 L533.49 368.08 L533.9 364.97 L534.3 361.93 L534.71 358.95 L535.11 356.05 L535.52 353.23 L535.92 350.49 L536.32 347.85 L536.73 345.3 L537.13 342.86 L537.54 340.54 L537.94 338.34 L538.35 336.26 L538.75 334.31 L539.16 332.5 L539.56 330.83 L539.96 329.31 L540.37 327.94 L540.77 326.73 L541.18 325.68 L541.58 324.79 L541.99 324.06 L542.39 323.5 L542.79 323.1 L543.2 322.86 L543.6 322.79 L544.01 322.88 L544.41 323.13 L544.82 323.55 L545.22 324.12 L545.62 324.86 L546.03 325.75 L546.43 326.8 L546.84 328 L547.24 329.35 L547.65 330.83 L548.05 332.45 L548.46 334.2 L548.86 336.07 L549.26 338.06 L549.67 340.16 L550.07 342.36 L550.48 344.66 L550.88 347.04 L551.29 349.51 L551.69 352.06 L552.09 354.67 L552.5 357.35 L552.9 360.08 L553.31 362.87 L553.71 365.69 L554.12 368.56 L554.52 371.49 L554.93 374.49 L555.33 377.54 L555.73 380.64 L556.14 383.78 L556.54 386.97 L556.95 390.19 L557.35 393.44 L557.76 396.71 L558.16 399.96 L558.56 403.2 L558.97 406.4 L559.37 409.58 L559.78 412.67 L560.18 415.65 L560.59 418.54 L560.99 421.32 L561.39 423.99 L561.8 426.55 L562.2 429 L562.61 431.34 L563.01 433.56 L563.42 435.72 L563.82 437.82 L564.23 439.87 L564.63 441.85 L565.03 443.78 L565.44 445.64 L565.84 447.48 L566.25 449.34 L566.65 451.22 L567.06 453.13 L567.46 455.07 L567.86 457.03 L568.27 459.02 L568.67 461.03 L569.08 463.07 L569.48 465.11 L569.89 467.08 L570.29 468.95 L570.69 470.71 L571.1 472.35 L571.5 473.9 L571.91 475.33 L572.31 476.66 L572.72 477.87 L573.12 478.98 L573.53 479.98 L573.93 480.93 L574.33 481.82 L574.74 482.67 L575.14 483.46 L575.55 484.21 L575.95 484.92 L576.36 485.6 L576.76 486.24 L577.16 486.85 L577.57 487.43 L577.97 488 L578.38 488.55 L578.78 489.11 L579.19 489.66 L579.59 490.21 L579.99 490.75 L580.4 491.3 L580.8 491.85 L581.21 492.41 L581.61 492.96 L582.02 493.49 L582.42 494.01 L582.83 494.51 L583.23 495.01 L583.63 495.5 L584.04 495.97 L584.44 496.44 L584.85 496.91 L585.25 497.37 L585.66 497.82 L586.06 498.26 L586.46 498.69 L586.87 499.12 L587.27 499.54 L587.68 499.95 L588.08 500.36 L588.49 500.77 L588.89 501.17 L589.3 501.56 L589.7 501.96 L590.1 502.36 L590.51 502.77 L590.91 503.17 L591.32 503.57 L591.72 503.98 L592.13 504.39 L592.53 504.79 L592.93 505.18 L593.34 505.57 L593.74 505.95 L594.15 506.33 L594.55 506.7 L594.96 507.06 L595.36 507.42 L595.76 507.77 L596.17 508.13 L596.57 508.48 L596.98 508.84 L597.38 509.2 L597.79 509.56 L598.19 509.92 L598.6 510.28 L599 510.64 L599.4 511.01 L599.81 511.37 L600.21 511.73 L600.62 512.09 L601.02 512.44 L601.43 512.79 L601.83 513.13 L602.23 513.47 L602.64 513.81 L603.04 514.14 L603.45 514.46 L603.85 514.79 L604.26 515.11 L604.66 515.43 L605.06 515.75 L605.47 516.06 L605.87 516.37 L606.28 516.68 L606.68 516.98 L607.09 517.28 L607.49 517.57 L607.9 517.86 L608.3 518.14 L608.7 518.41 L609.11 518.67 L609.51 518.93 L609.92 519.18 L610.32 519.42 L610.73 519.66 L611.13 519.89 L611.53 520.12 L611.94 520.34 L612.34 520.56 L612.75 520.77 L613.15 520.98 L613.56 521.19 L613.96 521.39 L614.37 521.58 L614.77 521.77 L615.17 521.96 L615.58 522.14 L615.98 522.32 L616.39 522.49 L616.79 522.66 L617.2 522.82 L617.6 522.97 L618 523.13 L618.41 523.27 L618.81 523.43 L619.22 523.59 L619.62 523.76 L620.03 523.93 L620.43 524.12 L620.83 524.31 L621.24 524.51 L621.64 524.71 L622.05 524.92 L622.45 525.13 L622.86 525.33 L623.26 525.53 L623.67 525.72 L624.07 525.9 L624.47 526.06 L624.88 526.21 L625.28 526.35 L625.69 526.47 L626.09 526.58 L626.5 526.69 L626.9 526.77 L627.3 526.86 L627.71 526.94 L628.11 527.02 L628.52 527.1 L628.92 527.17 L629.33 527.24 L629.73 527.31 L630.13 527.37 L630.54 527.43 L630.94 527.49 L631.35 527.55 L631.75 527.6 L632.16 527.65 L632.56 527.7 L632.97 527.75 L633.37 527.79 L633.77 527.84 L634.18 527.88 L634.58 527.92 L634.99 527.95 L635.39 527.99 L635.8 528.02 L636.2 528.06 L636.6 528.09 L637.01 528.12 L637.41 528.14 L637.82 528.17 L638.22 528.2 L638.63 528.22 L639.03 528.24 L639.44 528.26 L639.84 528.28 L640.24 528.3 L640.65 528.32 L641.05 528.34 L641.46 528.36 L641.86 528.37 L642.27 528.39 L642.67 528.4 L643.07 528.41 L643.48 528.43 L643.88 528.44 L644.29 528.45 L644.69 528.46 L645.1 528.47 L645.5 528.48 L645.9 528.49 L646.31 528.5 L646.71 528.5 L647.12 528.51 L647.52 528.52 L647.93 528.53 L648.33 528.53 L648.74 528.54 L649.14 528.54 L649.54 528.55 L649.95 528.55 L650.35 528.56 L650.76 528.56 L651.16 528.57 L651.57 528.57 L651.97 528.57 L652.37 528.58 L652.78 528.58 L653.18 528.58 L653.59 528.58 L653.99 528.59 L654.4 528.59 L654.8 528.59 L655.2 528.59 L655.61 528.59 L656.01 528.59 L656.42 528.6 L656.82 528.6 L657.23 528.6 L657.63 528.6 L658.04 528.6 L658.44 528.61 L658.84 528.61" fill="none" stroke="#1a1a1a" stroke-width="1.35" stroke-linejoin="round" />
<path d="M416.64 528.33 L417.04 528.34 L417.44 528.34 L417.85 528.34 L418.25 528.34 L418.66 528.34 L419.06 528.34 L419.47 528.34 L419.87 528.34 L420.28 528.34 L420.68 528.34 L421.08 528.34 L421.49 528.34 L421.89 528.34 L422.3 528.34 L422.7 528.35 L423.11 528.35 L423.51 528.35 L423.91 528.35 L424.32 528.35 L424.72 528.35 L425.13 528.35 L425.53 528.35 L425.94 528.35 L426.34 528.35 L426.74 528.35 L427.15 528.35 L427.55 528.35 L427.96 528.36 L428.36 528.36 L428.77 528.36 L429.17 528.36 L429.58 528.36 L429.98 528.36 L430.38 528.36 L430.79 528.36 L431.19 528.36 L431.6 528.36 L432 528.36 L432.41 528.36 L432.81 528.36 L433.21 528.36 L433.62 528.37 L434.02 528.37 L434.43 528.37 L434.83 528.37 L435.24 528.37 L435.64 528.37 L436.04 528.37 L436.45 528.37 L436.85 528.37 L437.26 528.37 L437.66 528.37 L438.07 528.37 L438.47 528.37 L438.88 528.37 L439.28 528.38 L439.68 528.38 L440.09 528.38 L440.49 528.38 L440.9 528.38 L441.3 528.38 L441.71 528.38 L442.11 528.38 L442.51 528.38 L442.92 528.38 L443.32 528.38 L443.73 528.38 L444.13 528.38 L444.54 528.38 L444.94 528.39 L445.35 528.39 L445.75 528.39 L446.15 528.39 L446.56 528.39 L446.96 528.39 L447.37 528.39 L447.77 528.39 L448.18 528.39 L448.58 528.39 L448.98 528.39 L449.39 528.39 L449.79 528.39 L450.2 528.39 L450.6 528.4 L451.01 528.4 L451.41 528.4 L451.81 528.4 L452.22 528.4 L452.62 528.4 L453.03 528.4 L453.43 528.4 L453.84 528.4 L454.24 528.4 L454.65 528.4 L455.05 528.4 L455.45 528.4 L455.86 528.4 L456.26 528.41 L456.67 528.41 L457.07 528.41 L457.48 528.41 L457.88 528.41 L458.28 528.41 L458.69 528.41 L459.09 528.41 L459.5 528.41 L459.9 528.41 L460.31 528.41 L460.71 528.41 L461.11 528.41 L461.52 528.41 L461.92 528.42 L462.33 528.42 L462.73 528.42 L463.14 528.42 L463.54 528.42 L463.95 528.42 L464.35 528.42 L464.75 528.42 L465.16 528.42 L465.56 528.42 L465.97 528.42 L466.37 528.42 L466.78 528.42 L467.18 528.43 L467.58 528.43 L467.99 528.43 L468.39 528.43 L468.8 528.43 L469.2 528.43 L469.61 528.43 L470.01 528.43 L470.42 528.43 L470.82 528.43 L471.22 528.43 L471.63 528.43 L472.03 528.43 L472.44 528.43 L472.84 528.44 L473.25 528.44 L473.65 528.44 L474.05 528.44 L474.46 528.44 L474.86 528.44 L475.27 528.44 L475.67 528.44 L476.08 528.44 L476.48 528.44 L476.88 528.44 L477.29 528.44 L477.69 528.44 L478.1 528.44 L478.5 528.45 L478.91 528.45 L479.31 528.45 L479.72 528.45 L480.12 528.45 L480.52 528.45 L480.93 528.45 L481.33 528.45 L481.74 528.45 L482.14 528.45 L482.55 528.45 L482.95 528.45 L483.35 528.45 L483.76 528.45 L484.16 528.46 L484.57 528.46 L484.97 528.46 L485.38 528.46 L485.78 528.46 L486.18 528.46 L486.59 528.46 L486.99 528.46 L487.4 528.46 L487.8 528.46 L488.21 528.46 L488.61 528.46 L489.02 528.46 L489.42 528.46 L489.82 528.47 L490.23 528.47 L490.63 528.47 L491.04 528.47 L491.44 528.47 L491.85 528.47 L492.25 528.47 L492.65 528.47 L493.06 528.47 L493.46 528.47 L493.87 528.47 L494.27 528.47 L494.68 528.47 L495.08 528.47 L495.49 528.48 L495.89 528.48 L496.29 528.48 L496.7 528.48 L497.1 528.48 L497.51 528.48 L497.91 528.48 L498.32 528.48 L498.72 528.48 L499.12 528.48 L499.53 528.48 L499.93 528.48 L500.34 528.48 L500.74 528.48 L501.15 528.49 L501.55 528.49 L501.95 528.49 L502.36 528.49 L502.76 528.49 L503.17 528.49 L503.57 528.49 L503.98 528.49 L504.38 528.49 L504.79 528.49 L505.19 528.49 L505.59 528.49 L506 528.49 L506.4 528.5 L506.81 528.5 L507.21 528.5 L507.62 528.5 L508.02 528.5 L508.42 528.5 L508.83 528.5 L509.23 528.5 L509.64 528.5 L510.04 528.5 L510.45 528.5 L510.85 528.5 L511.25 528.5 L511.66 528.5 L512.06 528.51 L512.47 528.51 L512.87 528.51 L513.28 528.51 L513.68 528.51 L514.09 528.51 L514.49 528.51 L514.89 528.51 L515.3 528.51 L515.7 528.51 L516.11 528.51 L516.51 528.51 L516.92 528.51 L517.32 528.51 L517.72 528.52 L518.13 528.52 L518.53 528.52 L518.94 528.52 L519.34 528.52 L519.75 528.52 L520.15 528.52 L520.55 528.52 L520.96 528.52 L521.36 528.52 L521.77 528.52 L522.17 528.52 L522.58 528.52 L522.98 528.52 L523.39 528.53 L523.79 528.53 L524.19 528.53 L524.6 528.53 L525 528.53 L525.41 528.53 L525.81 528.53 L526.22 528.53 L526.62 528.53 L527.02 528.53 L527.43 528.53 L527.83 528.53 L528.24 528.53 L528.64 528.53 L529.05 528.54 L529.45 528.54 L529.86 528.54 L530.26 528.54 L530.66 528.54 L531.07 528.54 L531.47 528.54 L531.88 528.54 L532.28 528.54 L532.69 528.54 L533.09 528.54 L533.49 528.54 L533.9 528.54 L534.3 528.54 L534.71 528.55 L535.11 528.55 L535.52 528.55 L535.92 528.55 L536.32 528.55 L536.73 528.55 L537.13 528.55 L537.54 528.55 L537.94 528.55 L538.35 528.55 L538.75 528.55 L539.16 528.55 L539.56 528.55 L539.96 528.55 L540.37 528.56 L540.77 528.56 L541.18 528.56 L541.58 528.56 L541.99 528.56 L542.39 528.56 L542.79 528.56 L543.2 528.56 L543.6 528.56 L544.01 528.56 L544.41 528.56 L544.82 528.56 L545.22 528.56 L545.62 528.57 L546.03 528.57 L546.43 528.57 L546.84 528.57 L547.24 528.57 L547.65 528.57 L548.05 528.57 L548.46 528.57 L548.86 528.57 L549.26 528.57 L549.67 528.57 L550.07 528.57 L550.48 528.57 L550.88 528.57 L551.29 528.58 L551.69 528.58 L552.09 528.58 L552.5 528.58 L552.9 528.58 L553.31 528.58 L553.71 528.58 L554.12 528.58 L554.52 528.58 L554.93 528.58 L555.33 528.58 L555.73 528.58 L556.14 528.58 L556.54 528.58 L556.95 528.59 L557.35 528.59 L557.76 528.59 L558.16 528.59 L558.56 528.59 L558.97 528.59 L559.37 528.59 L559.78 528.59 L560.18 528.59 L560.59 528.59 L560.99 528.59 L561.39 528.59 L561.8 528.59 L562.2 528.59 L562.61 528.6 L563.01 528.6 L563.42 528.6 L563.82 528.6 L564.23 528.6 L564.63 528.6 L565.03 528.6 L565.44 528.6 L565.84 528.6 L566.25 528.6 L566.65 528.6 L567.06 528.6 L567.46 528.6 L567.86 528.6 L568.27 528.61 L568.67 528.61 L569.08 528.61 L569.48 528.61 L569.89 528.61 L570.29 528.61 L570.69 528.61 L571.1 528.61 L571.5 528.61 L571.91 528.61 L572.31 528.61 L572.72 528.61 L573.12 528.61 L573.53 528.61 L573.93 528.62 L574.33 528.62 L574.74 528.62 L575.14 528.62 L575.55 528.62 L575.95 528.62 L576.36 528.62 L576.76 528.62 L577.16 528.62 L577.57 528.62 L577.97 528.62 L578.38 528.62 L578.78 528.62 L579.19 528.62 L579.59 528.63 L579.99 528.63 L580.4 528.63 L580.8 528.63 L581.21 528.63 L581.61 528.63 L582.02 528.63 L582.42 528.63 L582.83 528.63 L583.23 528.63 L583.63 528.63 L584.04 528.63 L584.44 528.63 L584.85 528.64 L585.25 528.64 L585.66 528.64 L586.06 528.64 L586.46 528.64 L586.87 528.64 L587.27 528.64 L587.68 528.64 L588.08 528.64 L588.49 528.64 L588.89 528.64 L589.3 528.64 L589.7 528.64 L590.1 528.64 L590.51 528.65 L590.91 528.65 L591.32 528.65 L591.72 528.65 L592.13 528.65 L592.53 528.65 L592.93 528.65 L593.34 528.65 L593.74 528.65 L594.15 528.65 L594.55 528.65 L594.96 528.65 L595.36 528.65 L595.76 528.65 L596.17 528.66 L596.57 528.66 L596.98 528.66 L597.38 528.66 L597.79 528.66 L598.19 528.66 L598.6 528.66 L599 528.66 L599.4 528.66 L599.81 528.66 L600.21 528.66 L600.62 528.66 L601.02 528.66 L601.43 528.66 L601.83 528.67 L602.23 528.67 L602.64 528.67 L603.04 528.67 L603.45 528.67 L603.85 528.67 L604.26 528.67 L604.66 528.67 L605.06 528.67 L605.47 528.67 L605.87 528.67 L606.28 528.67 L606.68 528.67 L607.09 528.67 L607.49 528.68 L607.9 528.68 L608.3 528.68 L608.7 528.68 L609.11 528.68 L609.51 528.68 L609.92 528.68 L610.32 528.68 L610.73 528.68 L611.13 528.68 L611.53 528.68 L611.94 528.68 L612.34 528.68 L612.75 528.68 L613.15 528.69 L613.56 528.69 L613.96 528.69 L614.37 528.69 L614.77 528.69 L615.17 528.69 L615.58 528.69 L615.98 528.69 L616.39 528.69 L616.79 528.69 L617.2 528.69 L617.6 528.69 L618 528.69 L618.41 528.69 L618.81 528.7 L619.22 528.7 L619.62 528.7 L620.03 528.7 L620.43 528.7 L620.83 528.7 L621.24 528.7 L621.64 528.7 L622.05 528.7 L622.45 528.7 L622.86 528.7 L623.26 528.7 L623.67 528.7 L624.07 528.71 L624.47 528.71 L624.88 528.71 L625.28 528.71 L625.69 528.71 L626.09 528.71 L626.5 528.71 L626.9 528.71 L627.3 528.71 L627.71 528.71 L628.11 528.71 L628.52 528.71 L628.92 528.71 L629.33 528.71 L629.73 528.72 L630.13 528.72 L630.54 528.72 L630.94 528.72 L631.35 528.72 L631.75 528.72 L632.16 528.72 L632.56 528.72 L632.97 528.72 L633.37 528.72 L633.77 528.72 L634.18 528.72 L634.58 528.72 L634.99 528.72 L635.39 528.73 L635.8 528.73 L636.2 528.73 L636.6 528.73 L637.01 528.73 L637.41 528.73 L637.82 528.73 L638.22 528.73 L638.63 528.73 L639.03 528.73 L639.44 528.73 L639.84 528.73 L640.24 528.73 L640.65 528.73 L641.05 528.74 L641.46 528.74 L641.86 528.74 L642.27 528.74 L642.67 528.74 L643.07 528.74 L643.48 528.74 L643.88 528.74 L644.29 528.74 L644.69 528.74 L645.1 528.74 L645.5 528.74 L645.9 528.74 L646.31 528.74 L646.71 528.75 L647.12 528.75 L647.52 528.75 L647.93 528.75 L648.33 528.75 L648.74 528.75 L649.14 528.75 L649.54 528.75 L649.95 528.75 L650.35 528.75 L650.76 528.75 L651.16 528.75 L651.57 528.75 L651.97 528.75 L652.37 528.76 L652.78 528.76 L653.18 528.76 L653.59 528.76 L653.99 528.76 L654.4 528.76 L654.8 528.76 L655.2 528.76 L655.61 528.76 L656.01 528.76 L656.42 528.76 L656.82 528.76 L657.23 528.76 L657.63 528.76 L658.04 528.77 L658.44 528.77 L658.84 528.77" fill="none" stroke="#ff2828" stroke-width="1.35" stroke-linejoin="round" />
<path d="M416.64 527.56 L417.04 527.55 L417.44 527.55 L417.85 527.55 L418.25 527.54 L418.66 527.54 L419.06 527.53 L419.47 527.53 L419.87 527.52 L420.28 527.52 L420.68 527.51 L421.08 527.51 L421.49 527.5 L421.89 527.5 L422.3 527.5 L422.7 527.49 L423.11 527.49 L423.51 527.48 L423.91 527.48 L424.32 527.47 L424.72 527.47 L425.13 527.46 L425.53 527.45 L425.94 527.45 L426.34 527.44 L426.74 527.44 L427.15 527.43 L427.55 527.43 L427.96 527.42 L428.36 527.42 L428.77 527.41 L429.17 527.4 L429.58 527.4 L429.98 527.39 L430.38 527.39 L430.79 527.38 L431.19 527.37 L431.6 527.37 L432 527.36 L432.41 527.35 L432.81 527.35 L433.21 527.34 L433.62 527.34 L434.02 527.33 L434.43 527.32 L434.83 527.31 L435.24 527.31 L435.64 527.3 L436.04 527.29 L436.45 527.29 L436.85 527.28 L437.26 527.27 L437.66 527.26 L438.07 527.26 L438.47 527.25 L438.88 527.24 L439.28 527.23 L439.68 527.22 L440.09 527.22 L440.49 527.21 L440.9 527.2 L441.3 527.19 L441.71 527.18 L442.11 527.17 L442.51 527.17 L442.92 527.16 L443.32 527.15 L443.73 527.14 L444.13 527.13 L444.54 527.12 L444.94 527.11 L445.35 527.1 L445.75 527.09 L446.15 527.08 L446.56 527.07 L446.96 527.06 L447.37 527.05 L447.77 527.04 L448.18 527.03 L448.58 527.02 L448.98 527.01 L449.39 527 L449.79 526.99 L450.2 526.98 L450.6 526.97 L451.01 526.95 L451.41 526.94 L451.81 526.93 L452.22 526.92 L452.62 526.91 L453.03 526.9 L453.43 526.88 L453.84 526.87 L454.24 526.86 L454.65 526.84 L455.05 526.83 L455.45 526.82 L455.86 526.8 L456.26 526.79 L456.67 526.78 L457.07 526.76 L457.48 526.75 L457.88 526.73 L458.28 526.72 L458.69 526.71 L459.09 526.69 L459.5 526.67 L459.9 526.66 L460.31 526.64 L460.71 526.63 L461.11 526.61 L461.52 526.59 L461.92 526.58 L462.33 526.56 L462.73 526.54 L463.14 526.53 L463.54 526.51 L463.95 526.49 L464.35 526.47 L464.75 526.45 L465.16 526.44 L465.56 526.42 L465.97 526.4 L466.37 526.38 L466.78 526.36 L467.18 526.34 L467.58 526.32 L467.99 526.3 L468.39 526.27 L468.8 526.25 L469.2 526.23 L469.61 526.21 L470.01 526.19 L470.42 526.16 L470.82 526.14 L471.22 526.12 L471.63 526.09 L472.03 526.07 L472.44 526.04 L472.84 526.02 L473.25 525.99 L473.65 525.96 L474.05 525.94 L474.46 525.91 L474.86 525.88 L475.27 525.85 L475.67 525.82 L476.08 525.79 L476.48 525.76 L476.88 525.73 L477.29 525.7 L477.69 525.67 L478.1 525.64 L478.5 525.61 L478.91 525.57 L479.31 525.54 L479.72 525.5 L480.12 525.47 L480.52 525.43 L480.93 525.39 L481.33 525.36 L481.74 525.32 L482.14 525.28 L482.55 525.24 L482.95 525.19 L483.35 525.15 L483.76 525.11 L484.16 525.06 L484.57 525.01 L484.97 524.97 L485.38 524.92 L485.78 524.87 L486.18 524.81 L486.59 524.76 L486.99 524.71 L487.4 524.65 L487.8 524.59 L488.21 524.53 L488.61 524.46 L489.02 524.4 L489.42 524.33 L489.82 524.26 L490.23 524.19 L490.63 524.11 L491.04 524.03 L491.44 523.95 L491.85 523.86 L492.25 523.77 L492.65 523.67 L493.06 523.58 L493.46 523.47 L493.87 523.36 L494.27 523.25 L494.68 523.13 L495.08 523.01 L495.49 522.87 L495.89 522.74 L496.29 522.59 L496.7 522.44 L497.1 522.27 L497.51 522.1 L497.91 521.92 L498.32 521.74 L498.72 521.54 L499.12 521.32 L499.53 521.1 L499.93 520.87 L500.34 520.62 L500.74 520.36 L501.15 520.08 L501.55 519.79 L501.95 519.48 L502.36 519.15 L502.76 518.8 L503.17 518.44 L503.57 518.05 L503.98 517.65 L504.38 517.22 L504.79 516.77 L505.19 516.29 L505.59 515.78 L506 515.25 L506.4 514.69 L506.81 514.1 L507.21 513.48 L507.62 512.83 L508.02 512.14 L508.42 511.41 L508.83 510.65 L509.23 509.86 L509.64 509.02 L510.04 508.14 L510.45 507.22 L510.85 506.25 L511.25 505.24 L511.66 504.18 L512.06 503.08 L512.47 501.92 L512.87 500.71 L513.28 499.45 L513.68 498.14 L514.09 496.77 L514.49 495.35 L514.89 493.86 L515.3 492.32 L515.7 490.72 L516.11 489.06 L516.51 487.34 L516.92 485.56 L517.32 483.71 L517.72 481.8 L518.13 479.83 L518.53 477.79 L518.94 475.69 L519.34 473.53 L519.75 471.3 L520.15 469 L520.55 466.64 L520.96 464.22 L521.36 461.74 L521.77 459.19 L522.17 456.59 L522.58 453.92 L522.98 451.2 L523.39 448.42 L523.79 445.59 L524.19 442.7 L524.6 439.77 L525 436.78 L525.41 433.75 L525.81 430.68 L526.22 427.57 L526.62 424.42 L527.02 421.24 L527.43 418.03 L527.83 414.79 L528.24 411.53 L528.64 408.26 L529.05 404.97 L529.45 401.67 L529.86 398.38 L530.26 395.08 L530.66 391.79 L531.07 388.51 L531.47 385.25 L531.88 382.02 L532.28 378.81 L532.69 375.64 L533.09 372.51 L533.49 369.43 L533.9 366.41 L534.3 363.45 L534.71 360.55 L535.11 357.73 L535.52 355 L535.92 352.35 L536.32 349.79 L536.73 347.34 L537.13 345 L537.54 342.77 L537.94 340.67 L538.35 338.69 L538.75 336.85 L539.16 335.15 L539.56 333.59 L539.96 332.18 L540.37 330.93 L540.77 329.84 L541.18 328.92 L541.58 328.15 L541.99 327.56 L542.39 327.14 L542.79 326.89 L543.2 326.82 L543.6 326.92 L544.01 327.2 L544.41 327.64 L544.82 328.26 L545.22 329.05 L545.62 330 L546.03 331.12 L546.43 332.4 L546.84 333.83 L547.24 335.41 L547.65 337.13 L548.05 338.99 L548.46 340.99 L548.86 343.12 L549.26 345.36 L549.67 347.72 L550.07 350.19 L550.48 352.76 L550.88 355.42 L551.29 358.18 L551.69 361.01 L552.09 363.91 L552.5 366.89 L552.9 369.92 L553.31 373.01 L553.71 376.15 L554.12 379.32 L554.52 382.53 L554.93 385.78 L555.33 389.04 L555.73 392.32 L556.14 395.61 L556.54 398.91 L556.95 402.21 L557.35 405.51 L557.76 408.8 L558.16 412.07 L558.56 415.33 L558.97 418.56 L559.37 421.77 L559.78 424.95 L560.18 428.09 L560.59 431.2 L560.99 434.27 L561.39 437.29 L561.8 440.27 L562.2 443.2 L562.61 446.08 L563.01 448.91 L563.42 451.68 L563.82 454.4 L564.23 457.05 L564.63 459.65 L565.03 462.19 L565.44 464.66 L565.84 467.08 L566.25 469.43 L566.65 471.71 L567.06 473.94 L567.46 476.09 L567.86 478.19 L568.27 480.22 L568.67 482.18 L569.08 484.08 L569.48 485.92 L569.89 487.7 L570.29 489.41 L570.69 491.06 L571.1 492.66 L571.5 494.19 L571.91 495.66 L572.31 497.08 L572.72 498.44 L573.12 499.75 L573.53 501 L573.93 502.2 L574.33 503.35 L574.74 504.45 L575.14 505.51 L575.55 506.51 L575.95 507.47 L576.36 508.39 L576.76 509.26 L577.16 510.1 L577.57 510.89 L577.97 511.65 L578.38 512.37 L578.78 513.05 L579.19 513.7 L579.59 514.32 L579.99 514.91 L580.4 515.46 L580.8 515.99 L581.21 516.5 L581.61 516.97 L582.02 517.42 L582.42 517.85 L582.83 518.25 L583.23 518.64 L583.63 519 L584.04 519.34 L584.44 519.67 L584.85 519.98 L585.25 520.27 L585.66 520.55 L586.06 520.81 L586.46 521.06 L586.87 521.29 L587.27 521.51 L587.68 521.72 L588.08 521.92 L588.49 522.11 L588.89 522.29 L589.3 522.46 L589.7 522.63 L590.1 522.78 L590.51 522.93 L590.91 523.06 L591.32 523.2 L591.72 523.32 L592.13 523.44 L592.53 523.56 L592.93 523.67 L593.34 523.77 L593.74 523.87 L594.15 523.96 L594.55 524.06 L594.96 524.14 L595.36 524.23 L595.76 524.31 L596.17 524.39 L596.57 524.46 L596.98 524.53 L597.38 524.6 L597.79 524.67 L598.19 524.73 L598.6 524.8 L599 524.86 L599.4 524.91 L599.81 524.97 L600.21 525.03 L600.62 525.08 L601.02 525.13 L601.43 525.18 L601.83 525.23 L602.23 525.28 L602.64 525.33 L603.04 525.37 L603.45 525.42 L603.85 525.46 L604.26 525.5 L604.66 525.54 L605.06 525.58 L605.47 525.62 L605.87 525.66 L606.28 525.7 L606.68 525.74 L607.09 525.77 L607.49 525.81 L607.9 525.84 L608.3 525.88 L608.7 525.91 L609.11 525.94 L609.51 525.98 L609.92 526.01 L610.32 526.04 L610.73 526.07 L611.13 526.1 L611.53 526.13 L611.94 526.16 L612.34 526.19 L612.75 526.22 L613.15 526.24 L613.56 526.27 L613.96 526.3 L614.37 526.32 L614.77 526.35 L615.17 526.38 L615.58 526.4 L615.98 526.43 L616.39 526.45 L616.79 526.47 L617.2 526.5 L617.6 526.52 L618 526.54 L618.41 526.57 L618.81 526.59 L619.22 526.61 L619.62 526.63 L620.03 526.65 L620.43 526.68 L620.83 526.7 L621.24 526.72 L621.64 526.74 L622.05 526.76 L622.45 526.78 L622.86 526.8 L623.26 526.82 L623.67 526.83 L624.07 526.85 L624.47 526.87 L624.88 526.89 L625.28 526.91 L625.69 526.92 L626.09 526.94 L626.5 526.96 L626.9 526.98 L627.3 526.99 L627.71 527.01 L628.11 527.03 L628.52 527.04 L628.92 527.06 L629.33 527.07 L629.73 527.09 L630.13 527.1 L630.54 527.12 L630.94 527.13 L631.35 527.15 L631.75 527.16 L632.16 527.18 L632.56 527.19 L632.97 527.21 L633.37 527.22 L633.77 527.23 L634.18 527.25 L634.58 527.26 L634.99 527.27 L635.39 527.29 L635.8 527.3 L636.2 527.31 L636.6 527.32 L637.01 527.34 L637.41 527.35 L637.82 527.36 L638.22 527.37 L638.63 527.38 L639.03 527.4 L639.44 527.41 L639.84 527.42 L640.24 527.43 L640.65 527.44 L641.05 527.45 L641.46 527.46 L641.86 527.47 L642.27 527.49 L642.67 527.5 L643.07 527.51 L643.48 527.52 L643.88 527.53 L644.29 527.54 L644.69 527.55 L645.1 527.56 L645.5 527.57 L645.9 527.58 L646.31 527.59 L646.71 527.6 L647.12 527.61 L647.52 527.61 L647.93 527.62 L648.33 527.63 L648.74 527.64 L649.14 527.65 L649.54 527.66 L649.95 527.67 L650.35 527.68 L650.76 527.69 L651.16 527.69 L651.57 527.7 L651.97 527.71 L652.37 527.72 L652.78 527.73 L653.18 527.74 L653.59 527.74 L653.99 527.75 L654.4 527.76 L654.8 527.77 L655.2 527.77 L655.61 527.78 L656.01 527.79 L656.42 527.8 L656.82 527.8 L657.23 527.81 L657.63 527.82 L658.04 527.83 L658.44 527.83 L658.84 527.84" fill="none" stroke="#2828ff" stroke-width="1.35" stroke-linejoin="round" />
<path d="M416.64 528.33 L417.04 528.34 L417.44 528.34 L417.85 528.34 L418.25 528.34 L418.66 528.34 L419.06 528.34 L419.47 528.34 L419.87 528.34 L420.28 528.34 L420.68 528.34 L421.08 528.34 L421.49 528.34 L421.89 528.34 L422.3 528.34 L422.7 528.35 L423.11 528.35 L423.51 528.35 L423.91 528.35 L424.32 528.35 L424.72 528.35 L425.13 528.35 L425.53 528.35 L425.94 528.35 L426.34 528.35 L426.74 528.35 L427.15 528.35 L427.55 528.35 L427.96 528.36 L428.36 528.36 L428.77 528.36 L429.17 528.36 L429.58 528.36 L429.98 528.36 L430.38 528.36 L430.79 528.36 L431.19 528.36 L431.6 528.36 L432 528.36 L432.41 528.36 L432.81 528.36 L433.21 528.36 L433.62 528.37 L434.02 528.37 L434.43 528.37 L434.83 528.37 L435.24 528.37 L435.64 528.37 L436.04 528.37 L436.45 528.37 L436.85 528.37 L437.26 528.37 L437.66 528.37 L438.07 528.37 L438.47 528.37 L438.88 528.37 L439.28 528.38 L439.68 528.38 L440.09 528.38 L440.49 528.38 L440.9 528.38 L441.3 528.38 L441.71 528.38 L442.11 528.38 L442.51 528.38 L442.92 528.38 L443.32 528.38 L443.73 528.38 L444.13 528.38 L444.54 528.38 L444.94 528.39 L445.35 528.39 L445.75 528.39 L446.15 528.39 L446.56 528.39 L446.96 528.39 L447.37 528.39 L447.77 528.39 L448.18 528.39 L448.58 528.39 L448.98 528.39 L449.39 528.39 L449.79 528.39 L450.2 528.39 L450.6 528.4 L451.01 528.4 L451.41 528.4 L451.81 528.4 L452.22 528.4 L452.62 528.4 L453.03 528.4 L453.43 528.4 L453.84 528.4 L454.24 528.4 L454.65 528.4 L455.05 528.4 L455.45 528.4 L455.86 528.4 L456.26 528.41 L456.67 528.41 L457.07 528.41 L457.48 528.41 L457.88 528.41 L458.28 528.41 L458.69 528.41 L459.09 528.41 L459.5 528.41 L459.9 528.41 L460.31 528.41 L460.71 528.41 L461.11 528.41 L461.52 528.41 L461.92 528.42 L462.33 528.42 L462.73 528.42 L463.14 528.42 L463.54 528.42 L463.95 528.42 L464.35 528.42 L464.75 528.42 L465.16 528.42 L465.56 528.42 L465.97 528.42 L466.37 528.42 L466.78 528.42 L467.18 528.43 L467.58 528.43 L467.99 528.43 L468.39 528.43 L468.8 528.43 L469.2 528.43 L469.61 528.43 L470.01 528.43 L470.42 528.43 L470.82 528.43 L471.22 528.43 L471.63 528.43 L472.03 528.43 L472.44 528.43 L472.84 528.44 L473.25 528.44 L473.65 528.44 L474.05 528.44 L474.46 528.44 L474.86 528.44 L475.27 528.44 L475.67 528.44 L476.08 528.44 L476.48 528.44 L476.88 528.44 L477.29 528.44 L477.69 528.44 L478.1 528.44 L478.5 528.45 L478.91 528.45 L479.31 528.45 L479.72 528.45 L480.12 528.45 L480.52 528.45 L480.93 528.45 L481.33 528.45 L481.74 528.45 L482.14 528.45 L482.55 528.45 L482.95 528.45 L483.35 528.45 L483.76 528.45 L484.16 528.46 L484.57 528.46 L484.97 528.46 L485.38 528.46 L485.78 528.46 L486.18 528.46 L486.59 528.46 L486.99 528.46 L487.4 528.46 L487.8 528.46 L488.21 528.46 L488.61 528.46 L489.02 528.46 L489.42 528.46 L489.82 528.47 L490.23 528.47 L490.63 528.47 L491.04 528.47 L491.44 528.47 L491.85 528.47 L492.25 528.47 L492.65 528.47 L493.06 528.47 L493.46 528.47 L493.87 528.47 L494.27 528.47 L494.68 528.47 L495.08 528.47 L495.49 528.48 L495.89 528.48 L496.29 528.48 L496.7 528.48 L497.1 528.48 L497.51 528.48 L497.91 528.48 L498.32 528.48 L498.72 528.48 L499.12 528.48 L499.53 528.48 L499.93 528.48 L500.34 528.48 L500.74 528.48 L501.15 528.48 L501.55 528.48 L501.95 528.49 L502.36 528.49 L502.76 528.49 L503.17 528.49 L503.57 528.49 L503.98 528.49 L504.38 528.49 L504.79 528.49 L505.19 528.49 L505.59 528.49 L506 528.49 L506.4 528.49 L506.81 528.49 L507.21 528.49 L507.62 528.49 L508.02 528.49 L508.42 528.49 L508.83 528.49 L509.23 528.49 L509.64 528.49 L510.04 528.49 L510.45 528.49 L510.85 528.49 L511.25 528.49 L511.66 528.49 L512.06 528.49 L512.47 528.49 L512.87 528.49 L513.28 528.49 L513.68 528.49 L514.09 528.49 L514.49 528.49 L514.89 528.49 L515.3 528.48 L515.7 528.48 L516.11 528.48 L516.51 528.48 L516.92 528.48 L517.32 528.47 L517.72 528.47 L518.13 528.47 L518.53 528.47 L518.94 528.46 L519.34 528.46 L519.75 528.46 L520.15 528.45 L520.55 528.45 L520.96 528.44 L521.36 528.44 L521.77 528.43 L522.17 528.43 L522.58 528.42 L522.98 528.41 L523.39 528.4 L523.79 528.4 L524.19 528.39 L524.6 528.38 L525 528.37 L525.41 528.36 L525.81 528.35 L526.22 528.34 L526.62 528.32 L527.02 528.31 L527.43 528.29 L527.83 528.28 L528.24 528.26 L528.64 528.25 L529.05 528.23 L529.45 528.21 L529.86 528.19 L530.26 528.17 L530.66 528.14 L531.07 528.12 L531.47 528.09 L531.88 528.07 L532.28 528.04 L532.69 528.01 L533.09 527.97 L533.49 527.94 L533.9 527.91 L534.3 527.87 L534.71 527.83 L535.11 527.79 L535.52 527.74 L535.92 527.7 L536.32 527.65 L536.73 527.6 L537.13 527.55 L537.54 527.49 L537.94 527.44 L538.35 527.38 L538.75 527.31 L539.16 527.25 L539.56 527.18 L539.96 527.11 L540.37 527.03 L540.77 526.95 L541.18 526.87 L541.58 526.79 L541.99 526.7 L542.39 526.61 L542.79 526.52 L543.2 526.42 L543.6 526.31 L544.01 526.21 L544.41 526.1 L544.82 525.98 L545.22 525.87 L545.62 525.74 L546.03 525.62 L546.43 525.49 L546.84 525.35 L547.24 525.21 L547.65 525.07 L548.05 524.92 L548.46 524.76 L548.86 524.61 L549.26 524.44 L549.67 524.28 L550.07 524.1 L550.48 523.93 L550.88 523.75 L551.29 523.56 L551.69 523.37 L552.09 523.17 L552.5 522.97 L552.9 522.77 L553.31 522.56 L553.71 522.34 L554.12 522.12 L554.52 521.9 L554.93 521.67 L555.33 521.44 L555.73 521.2 L556.14 520.96 L556.54 520.71 L556.95 520.46 L557.35 520.2 L557.76 519.95 L558.16 519.68 L558.56 519.42 L558.97 519.15 L559.37 518.88 L559.78 518.6 L560.18 518.32 L560.59 518.04 L560.99 517.75 L561.39 517.47 L561.8 517.18 L562.2 516.88 L562.61 516.59 L563.01 516.3 L563.42 516 L563.82 515.7 L564.23 515.4 L564.63 515.11 L565.03 514.81 L565.44 514.51 L565.84 514.21 L566.25 513.91 L566.65 513.61 L567.06 513.32 L567.46 513.02 L567.86 512.73 L568.27 512.44 L568.67 512.15 L569.08 511.86 L569.48 511.58 L569.89 511.3 L570.29 511.03 L570.69 510.75 L571.1 510.49 L571.5 510.22 L571.91 509.97 L572.31 509.71 L572.72 509.47 L573.12 509.23 L573.53 508.99 L573.93 508.76 L574.33 508.54 L574.74 508.33 L575.14 508.12 L575.55 507.92 L575.95 507.73 L576.36 507.55 L576.76 507.37 L577.16 507.2 L577.57 507.05 L577.97 506.9 L578.38 506.76 L578.78 506.63 L579.19 506.51 L579.59 506.4 L579.99 506.3 L580.4 506.21 L580.8 506.13 L581.21 506.06 L581.61 506 L582.02 505.95 L582.42 505.91 L582.83 505.89 L583.23 505.87 L583.63 505.87 L584.04 505.87 L584.44 505.89 L584.85 505.91 L585.25 505.95 L585.66 506 L586.06 506.06 L586.46 506.12 L586.87 506.2 L587.27 506.29 L587.68 506.39 L588.08 506.5 L588.49 506.62 L588.89 506.75 L589.3 506.89 L589.7 507.04 L590.1 507.19 L590.51 507.36 L590.91 507.53 L591.32 507.72 L591.72 507.91 L592.13 508.11 L592.53 508.31 L592.93 508.53 L593.34 508.75 L593.74 508.98 L594.15 509.21 L594.55 509.45 L594.96 509.7 L595.36 509.95 L595.76 510.21 L596.17 510.48 L596.57 510.74 L596.98 511.02 L597.38 511.29 L597.79 511.57 L598.19 511.86 L598.6 512.14 L599 512.43 L599.4 512.72 L599.81 513.02 L600.21 513.31 L600.62 513.61 L601.02 513.91 L601.43 514.21 L601.83 514.51 L602.23 514.81 L602.64 515.11 L603.04 515.41 L603.45 515.71 L603.85 516.01 L604.26 516.31 L604.66 516.61 L605.06 516.9 L605.47 517.19 L605.87 517.49 L606.28 517.77 L606.68 518.06 L607.09 518.35 L607.49 518.63 L607.9 518.9 L608.3 519.18 L608.7 519.45 L609.11 519.72 L609.51 519.98 L609.92 520.25 L610.32 520.5 L610.73 520.75 L611.13 521 L611.53 521.25 L611.94 521.49 L612.34 521.72 L612.75 521.95 L613.15 522.18 L613.56 522.4 L613.96 522.62 L614.37 522.83 L614.77 523.04 L615.17 523.24 L615.58 523.44 L615.98 523.64 L616.39 523.83 L616.79 524.01 L617.2 524.19 L617.6 524.36 L618 524.53 L618.41 524.7 L618.81 524.86 L619.22 525.01 L619.62 525.16 L620.03 525.31 L620.43 525.45 L620.83 525.59 L621.24 525.72 L621.64 525.85 L622.05 525.98 L622.45 526.1 L622.86 526.21 L623.26 526.33 L623.67 526.44 L624.07 526.54 L624.47 526.64 L624.88 526.74 L625.28 526.83 L625.69 526.92 L626.09 527.01 L626.5 527.09 L626.9 527.17 L627.3 527.25 L627.71 527.32 L628.11 527.39 L628.52 527.46 L628.92 527.52 L629.33 527.59 L629.73 527.65 L630.13 527.7 L630.54 527.76 L630.94 527.81 L631.35 527.86 L631.75 527.91 L632.16 527.95 L632.56 527.99 L632.97 528.04 L633.37 528.07 L633.77 528.11 L634.18 528.15 L634.58 528.18 L634.99 528.21 L635.39 528.24 L635.8 528.27 L636.2 528.3 L636.6 528.33 L637.01 528.35 L637.41 528.38 L637.82 528.4 L638.22 528.42 L638.63 528.44 L639.03 528.46 L639.44 528.48 L639.84 528.49 L640.24 528.51 L640.65 528.52 L641.05 528.54 L641.46 528.55 L641.86 528.56 L642.27 528.58 L642.67 528.59 L643.07 528.6 L643.48 528.61 L643.88 528.62 L644.29 528.63 L644.69 528.64 L645.1 528.64 L645.5 528.65 L645.9 528.66 L646.31 528.67 L646.71 528.67 L647.12 528.68 L647.52 528.68 L647.93 528.69 L648.33 528.69 L648.74 528.7 L649.14 528.7 L649.54 528.71 L649.95 528.71 L650.35 528.71 L650.76 528.72 L651.16 528.72 L651.57 528.72 L651.97 528.73 L652.37 528.73 L652.78 528.73 L653.18 528.74 L653.59 528.74 L653.99 528.74 L654.4 528.74 L654.8 528.74 L655.2 528.75 L655.61 528.75 L656.01 528.75 L656.42 528.75 L656.82 528.75 L657.23 528.75 L657.63 528.76 L658.04 528.76 L658.44 528.76 L658.84 528.76" fill="none" stroke="#ff28ff" stroke-width="1.35" stroke-linejoin="round" />
</g>
<g id="labels">
<text x="286.6" y="21.3" font-size="25" font-weight="bold" text-anchor="start" >A</text>
<text x="668.6" y="17.7" font-size="25" font-weight="bold" text-anchor="start" >B</text>
<text x="306" y="329.8" font-size="25" font-weight="bold" text-anchor="start" >C</text>
<text x="655.2" y="319.2" font-size="25" font-weight="bold" text-anchor="start" >D</text>
<text x="171.4" y="279" font-size="13" font-weight="bold" text-anchor="middle" >Binding Energy&#160;&#160;(eV)</text>
<text x="532.6" y="282.1" font-size="13" font-weight="bold" text-anchor="middle" >Binding Energy&#160;&#160;(eV)</text>
<text x="171.3" y="565.9" font-size="13" font-weight="bold" text-anchor="middle" >Binding Energy&#160;&#160;(eV)</text>
<text x="532.3" y="565.6" font-size="13" font-weight="bold" text-anchor="middle" >Binding Energy&#160;&#160;(eV)</text>
<text x="11.6" y="140.1" font-size="13.5" font-weight="bold" text-anchor="middle" transform="rotate(-90 11.6 140.1)">Intensity (a.u.)</text>
<text x="367.2" y="130.3" font-size="13.5" font-weight="bold" text-anchor="middle" transform="rotate(-90 367.2 130.3)">Intensity (a.u.)</text>
<text x="9.4" y="432.9" font-size="13.5" font-weight="bold" text-anchor="middle" transform="rotate(-90 9.4 432.9)">Intensity (a.u.)</text>
<text x="371.4" y="432.8" font-size="13.5" font-weight="bold" text-anchor="middle" transform="rotate(-90 371.4 432.8)">Intensity (a.u.)</text>
<line x1="245.4" y1="40.4" x2="269.4" y2="40.4" stroke="#ff3c3c" stroke-width="1.45"/>
<text x="272" y="44.5" font-size="10" font-weight="bold" text-anchor="start" >C-QDs</text>
<line x1="602.2" y1="29.2" x2="626.0" y2="29.2" stroke="#ff4848" stroke-width="1.5"/>
<text x="629" y="32.8" font-size="10" font-weight="bold" text-anchor="start" >Fennel seed</text>
<line x1="244.9" y1="336.2" x2="268.1" y2="336.2" stroke="#333" stroke-width="1.45"/>
<text x="271" y="340.4" font-size="10" font-weight="normal" text-anchor="start" >C-QDs</text>
<line x1="597.6" y1="326.6" x2="620.6" y2="326.6" stroke="#222" stroke-width="1.45"/>
<text x="624.2" y="330.7" font-size="10" font-weight="bold" text-anchor="start" >C-QDs</text>
<text transform="translate(219.8 52.2) scale(1 1.1)" font-size="8.5" font-weight="bold" text-anchor="start" >C 1s</text>
<text transform="translate(162.8 138.7) scale(1 1.1)" font-size="8.5" font-weight="bold" text-anchor="start" >O 1s</text>
<text transform="translate(261 211.1) scale(1 1.1)" font-size="8.5" font-weight="bold" text-anchor="start" >Si 2s</text>
<text transform="translate(286 219.5) scale(1 1.1)" font-size="8.5" font-weight="bold" text-anchor="start" >Si 2p</text>
<text transform="translate(578.8 60.2) scale(1 1.1)" font-size="8.5" font-weight="bold" text-anchor="start" >C 1s</text>
<text transform="translate(523.7 91.6) scale(1 1.1)" font-size="8.5" font-weight="bold" text-anchor="start" >O 1s</text>
<text transform="translate(568.3 158.9) scale(1 1.1)" font-size="8.5" font-weight="bold" text-anchor="start" >N 1s</text>
<text transform="translate(184.6 338.9) scale(1 1.1)" font-size="8.5" font-weight="bold" text-anchor="start" >C=C</text>
<text transform="translate(147.9 444.8) scale(1 1.1)" font-size="8.5" font-weight="bold" text-anchor="start" >C-O</text>
<text transform="translate(105.7 503.7) scale(1 1.1)" font-size="8.5" font-weight="bold" text-anchor="start" >C=O</text>
<text transform="translate(517 331.1) scale(1 1.1)" font-size="8.5" font-weight="bold" text-anchor="start" >C=O</text>
<text transform="translate(597.9 503.8) scale(1 1.1)" font-size="8.5" font-weight="bold" text-anchor="start" >O-ads</text>
</g>
</svg>
</body></html>
